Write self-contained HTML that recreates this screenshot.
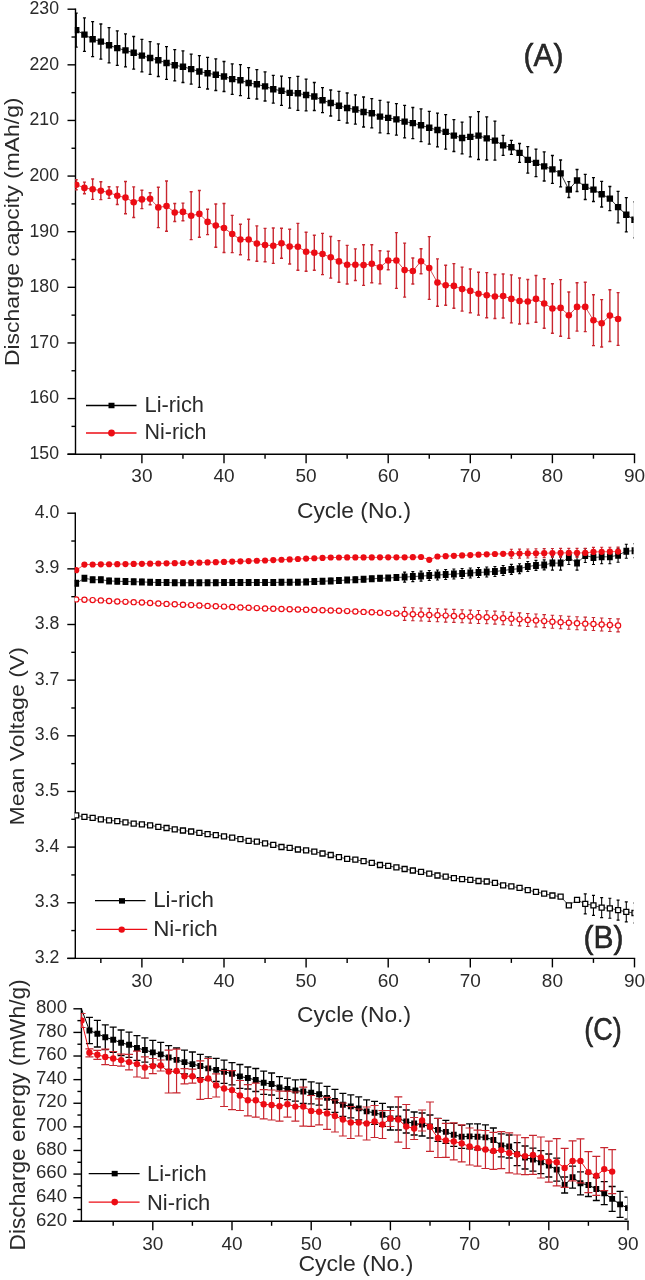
<!DOCTYPE html><html><head><meta charset="utf-8"><style>html,body{margin:0;padding:0;background:#fff;}svg{display:block;filter:blur(0.3px);}text{font-family:"Liberation Sans", sans-serif;fill:#2a2a2a;}</style></head><body>
<svg width="645" height="1280" viewBox="0 0 645 1280">
<rect width="645" height="1280" fill="#fff"/>
<defs><clipPath id="cA"><rect x="74.8" y="0" width="558.8" height="454"/></clipPath><clipPath id="cB"><rect x="74.6" y="500" width="559" height="458"/></clipPath><clipPath id="cC"><rect x="80.7" y="990" width="546.8" height="231"/></clipPath></defs>
<line x1="75.5" y1="8.5" x2="75.5" y2="454.9" stroke="#000" stroke-width="1.4"/>
<line x1="67.5" y1="454.2" x2="75.5" y2="454.2" stroke="#000" stroke-width="1.4"/>
<line x1="67.5" y1="398.57" x2="75.5" y2="398.57" stroke="#000" stroke-width="1.4"/>
<line x1="67.5" y1="342.95" x2="75.5" y2="342.95" stroke="#000" stroke-width="1.4"/>
<line x1="67.5" y1="287.32" x2="75.5" y2="287.32" stroke="#000" stroke-width="1.4"/>
<line x1="67.5" y1="231.7" x2="75.5" y2="231.7" stroke="#000" stroke-width="1.4"/>
<line x1="67.5" y1="176.07" x2="75.5" y2="176.07" stroke="#000" stroke-width="1.4"/>
<line x1="67.5" y1="120.45" x2="75.5" y2="120.45" stroke="#000" stroke-width="1.4"/>
<line x1="67.5" y1="64.83" x2="75.5" y2="64.83" stroke="#000" stroke-width="1.4"/>
<line x1="67.5" y1="9.2" x2="75.5" y2="9.2" stroke="#000" stroke-width="1.4"/>
<line x1="71.5" y1="426.39" x2="75.5" y2="426.39" stroke="#000" stroke-width="1.4"/>
<line x1="71.5" y1="370.76" x2="75.5" y2="370.76" stroke="#000" stroke-width="1.4"/>
<line x1="71.5" y1="315.14" x2="75.5" y2="315.14" stroke="#000" stroke-width="1.4"/>
<line x1="71.5" y1="259.51" x2="75.5" y2="259.51" stroke="#000" stroke-width="1.4"/>
<line x1="71.5" y1="203.89" x2="75.5" y2="203.89" stroke="#000" stroke-width="1.4"/>
<line x1="71.5" y1="148.26" x2="75.5" y2="148.26" stroke="#000" stroke-width="1.4"/>
<line x1="71.5" y1="92.64" x2="75.5" y2="92.64" stroke="#000" stroke-width="1.4"/>
<line x1="71.5" y1="37.01" x2="75.5" y2="37.01" stroke="#000" stroke-width="1.4"/>
<line x1="67.5" y1="454.2" x2="635.2" y2="454.2" stroke="#000" stroke-width="1.4"/>
<line x1="141.9" y1="454.2" x2="141.9" y2="463.2" stroke="#000" stroke-width="1.4"/>
<line x1="224" y1="454.2" x2="224" y2="463.2" stroke="#000" stroke-width="1.4"/>
<line x1="306.1" y1="454.2" x2="306.1" y2="463.2" stroke="#000" stroke-width="1.4"/>
<line x1="388.2" y1="454.2" x2="388.2" y2="463.2" stroke="#000" stroke-width="1.4"/>
<line x1="470.3" y1="454.2" x2="470.3" y2="463.2" stroke="#000" stroke-width="1.4"/>
<line x1="552.4" y1="454.2" x2="552.4" y2="463.2" stroke="#000" stroke-width="1.4"/>
<line x1="634.5" y1="454.2" x2="634.5" y2="463.2" stroke="#000" stroke-width="1.4"/>
<line x1="100.85" y1="454.2" x2="100.85" y2="458.7" stroke="#000" stroke-width="1.4"/>
<line x1="182.95" y1="454.2" x2="182.95" y2="458.7" stroke="#000" stroke-width="1.4"/>
<line x1="265.05" y1="454.2" x2="265.05" y2="458.7" stroke="#000" stroke-width="1.4"/>
<line x1="347.15" y1="454.2" x2="347.15" y2="458.7" stroke="#000" stroke-width="1.4"/>
<line x1="429.25" y1="454.2" x2="429.25" y2="458.7" stroke="#000" stroke-width="1.4"/>
<line x1="511.35" y1="454.2" x2="511.35" y2="458.7" stroke="#000" stroke-width="1.4"/>
<line x1="593.45" y1="454.2" x2="593.45" y2="458.7" stroke="#000" stroke-width="1.4"/>
<text transform="translate(59,459) scale(0.93,1)" font-size="19" text-anchor="end">150</text>
<text transform="translate(59,403.38) scale(0.93,1)" font-size="19" text-anchor="end">160</text>
<text transform="translate(59,347.75) scale(0.93,1)" font-size="19" text-anchor="end">170</text>
<text transform="translate(59,292.12) scale(0.93,1)" font-size="19" text-anchor="end">180</text>
<text transform="translate(59,236.5) scale(0.93,1)" font-size="19" text-anchor="end">190</text>
<text transform="translate(59,180.88) scale(0.93,1)" font-size="19" text-anchor="end">200</text>
<text transform="translate(59,125.25) scale(0.93,1)" font-size="19" text-anchor="end">210</text>
<text transform="translate(59,69.62) scale(0.93,1)" font-size="19" text-anchor="end">220</text>
<text transform="translate(59,14) scale(0.93,1)" font-size="19" text-anchor="end">230</text>
<text x="141.9" y="482" font-size="19" text-anchor="middle">30</text>
<text x="224" y="482" font-size="19" text-anchor="middle">40</text>
<text x="306.1" y="482" font-size="19" text-anchor="middle">50</text>
<text x="388.2" y="482" font-size="19" text-anchor="middle">60</text>
<text x="470.3" y="482" font-size="19" text-anchor="middle">70</text>
<text x="552.4" y="482" font-size="19" text-anchor="middle">80</text>
<text x="634.5" y="482" font-size="19" text-anchor="middle">90</text>
<text x="297" y="518" font-size="21.5" textLength="114" lengthAdjust="spacingAndGlyphs">Cycle (No.)</text>
<text transform="translate(18.6,366.1) rotate(-90)" font-size="21" textLength="268.6" lengthAdjust="spacingAndGlyphs">Discharge capcity (mAh/g)</text>
<text x="523.5" y="65.8" font-size="31" stroke="#111" stroke-width="0.5" textLength="40" lengthAdjust="spacingAndGlyphs" fill="#111">(A)</text>
<g clip-path="url(#cA)">
<polyline points="76.22,30.1 84.43,34.6 92.64,39.2 100.85,41.6 109.06,45.3 117.27,48.1 125.48,50.4 133.69,52.8 141.9,55.6 150.11,58 158.32,60.2 166.53,63 174.74,65.3 182.95,66.7 191.16,69.1 199.37,71.5 207.58,73.2 215.79,74.7 224,76.5 232.21,79.1 240.42,80.2 248.63,83 256.84,84.3 265.05,86.4 273.26,89.2 281.47,90.8 289.68,92.9 297.89,93.3 306.1,95 314.31,96.5 322.52,100.2 330.73,103 338.94,105.8 347.15,108 355.36,109.5 363.57,112 371.78,113.3 379.99,116.6 388.2,117.9 396.41,119.4 404.62,121.6 412.83,123.1 421.04,125.3 429.25,127.8 437.46,130 445.67,131.9 453.88,135.6 462.09,138 470.3,136.9 478.51,135.6 486.72,138.4 494.93,140.6 503.14,145.4 511.35,147.3 519.56,152.9 527.77,159.9 535.98,162.9 544.19,166.4 552.4,169.4 560.61,173.4 568.82,189.6 577.03,180.5 585.24,186.9 593.45,189.6 601.66,194.2 609.87,198.6 618.08,207.1 626.29,214.8 634.5,219.8" stroke="#000" stroke-width="0.8" fill="none"/>
<polyline points="76.22,184.7 84.43,187.9 92.64,189.2 100.85,190.7 109.06,192.6 117.27,195.7 125.48,197.6 133.69,202.2 141.9,199.4 150.11,198.7 158.32,207.4 166.53,206.1 174.74,212.5 182.95,211.9 191.16,215.7 199.37,213.9 207.58,221.9 215.79,225.6 224,228 232.21,234 240.42,239.5 248.63,239.5 256.84,243.6 265.05,245.1 273.26,245.7 281.47,243.3 289.68,246.6 297.89,246.8 306.1,251.7 314.31,252.7 322.52,254 330.73,257.3 338.94,261.4 347.15,264.7 355.36,264.7 363.57,265.1 371.78,263.8 379.99,267.3 388.2,260.5 396.41,260.5 404.62,270.1 412.83,271 421.04,261.2 429.25,268 437.46,282.6 445.67,285.3 453.88,285.9 462.09,289.1 470.3,290.9 478.51,293.7 486.72,295.2 494.93,296.5 503.14,296 511.35,298.9 519.56,301 527.77,301.5 535.98,298.9 544.19,303.5 552.4,308.5 560.61,307.9 568.82,315.2 577.03,306.9 585.24,306.9 593.45,320.2 601.66,323.3 609.87,315.6 618.08,319" stroke="#c8262f" stroke-width="0.8" fill="none"/>
<path d="M76.22 13.1V47.1M74.72 13.1H77.72M74.72 47.1H77.72M84.43 17.9V51.3M82.93 17.9H85.93M82.93 51.3H85.93M92.64 21.7V56.7M91.14 21.7H94.14M91.14 56.7H94.14M100.85 24V59.2M99.35 24H102.35M99.35 59.2H102.35M109.06 27.7V62.9M107.56 27.7H110.56M107.56 62.9H110.56M117.27 30.9V65.3M115.77 30.9H118.77M115.77 65.3H118.77M125.48 33.9V66.9M123.98 33.9H126.98M123.98 66.9H126.98M133.69 36.5V69.1M132.19 36.5H135.19M132.19 69.1H135.19M141.9 39.3V71.9M140.4 39.3H143.4M140.4 71.9H143.4M150.11 41.7V74.3M148.61 41.7H151.61M148.61 74.3H151.61M158.32 43.9V76.5M156.82 43.9H159.82M156.82 76.5H159.82M166.53 46.6V79.4M165.03 46.6H168.03M165.03 79.4H168.03M174.74 49.7V80.9M173.24 49.7H176.24M173.24 80.9H176.24M182.95 50.9V82.5M181.45 50.9H184.45M181.45 82.5H184.45M191.16 54.1V84.1M189.66 54.1H192.66M189.66 84.1H192.66M199.37 55.7V87.3M197.87 55.7H200.87M197.87 87.3H200.87M207.58 57.4V89M206.08 57.4H209.08M206.08 89H209.08M215.79 58.9V90.5M214.29 58.9H217.29M214.29 90.5H217.29M224 61.5V91.5M222.5 61.5H225.5M222.5 91.5H225.5M232.21 63.9V94.3M230.71 63.9H233.71M230.71 94.3H233.71M240.42 64.7V95.7M238.92 64.7H241.92M238.92 95.7H241.92M248.63 67.7V98.3M247.13 67.7H250.13M247.13 98.3H250.13M256.84 69.6V99M255.34 69.6H258.34M255.34 99H258.34M265.05 71.8V101M263.55 71.8H266.55M263.55 101H266.55M273.26 75.3V103.1M271.76 75.3H274.76M271.76 103.1H274.76M281.47 76.2V105.4M279.97 76.2H282.97M279.97 105.4H282.97M289.68 77.7V108.1M288.18 77.7H291.18M288.18 108.1H291.18M297.89 76.3V110.3M296.39 76.3H299.39M296.39 110.3H299.39M306.1 79.2V110.8M304.6 79.2H307.6M304.6 110.8H307.6M314.31 82.5V110.5M312.81 82.5H315.81M312.81 110.5H315.81M322.52 87.7V112.7M321.02 87.7H324.02M321.02 112.7H324.02M330.73 90V116M329.23 90H332.23M329.23 116H332.23M338.94 91.3V120.3M337.44 91.3H340.44M337.44 120.3H340.44M347.15 93V123M345.65 93H348.65M345.65 123H348.65M355.36 94.9V124.1M353.86 94.9H356.86M353.86 124.1H356.86M363.57 97V127M362.07 97H365.07M362.07 127H365.07M371.78 98.7V127.9M370.28 98.7H373.28M370.28 127.9H373.28M379.99 100.3V132.9M378.49 100.3H381.49M378.49 132.9H381.49M388.2 102.1V133.7M386.7 102.1H389.7M386.7 133.7H389.7M396.41 103.6V135.2M394.91 103.6H397.91M394.91 135.2H397.91M404.62 105.3V137.9M403.12 105.3H406.12M403.12 137.9H406.12M412.83 107.5V138.7M411.33 107.5H414.33M411.33 138.7H414.33M421.04 108.9V141.7M419.54 108.9H422.54M419.54 141.7H422.54M429.25 111.4V144.2M427.75 111.4H430.75M427.75 144.2H430.75M437.46 113.1V146.9M435.96 113.1H438.96M435.96 146.9H438.96M445.67 114.7V149.1M444.17 114.7H447.17M444.17 149.1H447.17M453.88 119.7V151.5M452.38 119.7H455.38M452.38 151.5H455.38M462.09 122.2V153.8M460.59 122.2H463.59M460.59 153.8H463.59M470.3 116.9V156.9M468.8 116.9H471.8M468.8 156.9H471.8M478.51 111.7V159.5M477.01 111.7H480.01M477.01 159.5H480.01M486.72 116.8V160M485.22 116.8H488.22M485.22 160H488.22M494.93 121.1V160.1M493.43 121.1H496.43M493.43 160.1H496.43M503.14 135.4V155.4M501.64 135.4H504.64M501.64 155.4H504.64M511.35 140.3V154.3M509.85 140.3H512.85M509.85 154.3H512.85M519.56 143.5V162.3M518.06 143.5H521.06M518.06 162.3H521.06M527.77 146.6V173.2M526.27 146.6H529.27M526.27 173.2H529.27M535.98 149.1V176.7M534.48 149.1H537.48M534.48 176.7H537.48M544.19 151.8V181M542.69 151.8H545.69M542.69 181H545.69M552.4 155.5V183.3M550.9 155.5H553.9M550.9 183.3H553.9M560.61 160V186.8M559.11 160H562.11M559.11 186.8H562.11M568.82 181.7V197.5M567.32 181.7H570.32M567.32 197.5H570.32M577.03 169.5V191.5M575.53 169.5H578.53M575.53 191.5H578.53M585.24 174.3V199.5M583.74 174.3H586.74M583.74 199.5H586.74M593.45 177.7V201.5M591.95 177.7H594.95M591.95 201.5H594.95M601.66 181.4V207M600.16 181.4H603.16M600.16 207H603.16M609.87 186.5V210.7M608.37 186.5H611.37M608.37 210.7H611.37M618.08 191.3V222.9M616.58 191.3H619.58M616.58 222.9H619.58M626.29 197.7V231.9M624.79 197.7H627.79M624.79 231.9H627.79M634.5 201.8V237.8M633 201.8H636M633 237.8H636" stroke="#000" stroke-width="1.3" fill="none"/>
<path d="M76.22 179.7V189.7M74.72 179.7H77.72M74.72 189.7H77.72M84.43 182.1V193.7M82.93 182.1H85.93M82.93 193.7H85.93M92.64 179V199.4M91.14 179H94.14M91.14 199.4H94.14M100.85 181.8V199.6M99.35 181.8H102.35M99.35 199.6H102.35M109.06 186.8V198.4M107.56 186.8H110.56M107.56 198.4H110.56M117.27 186.9V204.5M115.77 186.9H118.77M115.77 204.5H118.77M125.48 181.5V213.7M123.98 181.5H126.98M123.98 213.7H126.98M133.69 186.9V217.5M132.19 186.9H135.19M132.19 217.5H135.19M141.9 190.2V208.6M140.4 190.2H143.4M140.4 208.6H143.4M150.11 192.7V204.7M148.61 192.7H151.61M148.61 204.7H151.61M158.32 187.2V227.6M156.82 187.2H159.82M156.82 227.6H159.82M166.53 181V231.2M165.03 181H168.03M165.03 231.2H168.03M174.74 203.5V221.5M173.24 203.5H176.24M173.24 221.5H176.24M182.95 203.1V220.7M181.45 203.1H184.45M181.45 220.7H184.45M191.16 191.8V239.6M189.66 191.8H192.66M189.66 239.6H192.66M199.37 190.5V237.3M197.87 190.5H200.87M197.87 237.3H200.87M207.58 209.2V234.6M206.08 209.2H209.08M206.08 234.6H209.08M215.79 204V247.2M214.29 204H217.29M214.29 247.2H217.29M224 203.5V252.5M222.5 203.5H225.5M222.5 252.5H225.5M232.21 215.4V252.6M230.71 215.4H233.71M230.71 252.6H233.71M240.42 224.2V254.8M238.92 224.2H241.92M238.92 254.8H241.92M248.63 219.3V259.7M247.13 219.3H250.13M247.13 259.7H250.13M256.84 225.9V261.3M255.34 225.9H258.34M255.34 261.3H258.34M265.05 228.4V261.8M263.55 228.4H266.55M263.55 261.8H266.55M273.26 228V263.4M271.76 228H274.76M271.76 263.4H274.76M281.47 228.3V258.3M279.97 228.3H282.97M279.97 258.3H282.97M289.68 229.2V264M288.18 229.2H291.18M288.18 264H291.18M297.89 223.4V270.2M296.39 223.4H299.39M296.39 270.2H299.39M306.1 232.2V271.2M304.6 232.2H307.6M304.6 271.2H307.6M314.31 235.2V270.2M312.81 235.2H315.81M312.81 270.2H315.81M322.52 233.4V274.6M321.02 233.4H324.02M321.02 274.6H324.02M330.73 236.5V278.1M329.23 236.5H332.23M329.23 278.1H332.23M338.94 240.6V282.2M337.44 240.6H340.44M337.44 282.2H340.44M347.15 245.4V284M345.65 245.4H348.65M345.65 284H348.65M355.36 248.9V280.5M353.86 248.9H356.86M353.86 280.5H356.86M363.57 244.8V285.4M362.07 244.8H365.07M362.07 285.4H365.07M371.78 244.8V282.8M370.28 244.8H373.28M370.28 282.8H373.28M379.99 250.7V283.9M378.49 250.7H381.49M378.49 283.9H381.49M388.2 251.2V269.8M386.7 251.2H389.7M386.7 269.8H389.7M396.41 232.6V288.4M394.91 232.6H397.91M394.91 288.4H397.91M404.62 243.1V297.1M403.12 243.1H406.12M403.12 297.1H406.12M412.83 258V284M411.33 258H414.33M411.33 284H414.33M421.04 248.7V273.7M419.54 248.7H422.54M419.54 273.7H422.54M429.25 236.6V299.4M427.75 236.6H430.75M427.75 299.4H430.75M437.46 258.9V306.3M435.96 258.9H438.96M435.96 306.3H438.96M445.67 265.3V305.3M444.17 265.3H447.17M444.17 305.3H447.17M453.88 263.6V308.2M452.38 263.6H455.38M452.38 308.2H455.38M462.09 267.1V311.1M460.59 267.1H463.59M460.59 311.1H463.59M470.3 269V312.8M468.8 269H471.8M468.8 312.8H471.8M478.51 272.3V315.1M477.01 272.3H480.01M477.01 315.1H480.01M486.72 272.6V317.8M485.22 272.6H488.22M485.22 317.8H488.22M494.93 274.5V318.5M493.43 274.5H496.43M493.43 318.5H496.43M503.14 274V318M501.64 274H504.64M501.64 318H504.64M511.35 274.9V322.9M509.85 274.9H512.85M509.85 322.9H512.85M519.56 278V324M518.06 278H521.06M518.06 324H521.06M527.77 279.5V323.5M526.27 279.5H529.27M526.27 323.5H529.27M535.98 275.5V322.3M534.48 275.5H537.48M534.48 322.3H537.48M544.19 278.8V328.2M542.69 278.8H545.69M542.69 328.2H545.69M552.4 283.8V333.2M550.9 283.8H553.9M550.9 333.2H553.9M560.61 279.6V336.2M559.11 279.6H562.11M559.11 336.2H562.11M568.82 292V338.4M567.32 292H570.32M567.32 338.4H570.32M577.03 282.7V331.1M575.53 282.7H578.53M575.53 331.1H578.53M585.24 282.2V331.6M583.74 282.2H586.74M583.74 331.6H586.74M593.45 294.8V345.6M591.95 294.8H594.95M591.95 345.6H594.95M601.66 299.6V347M600.16 299.6H603.16M600.16 347H603.16M609.87 289.7V341.5M608.37 289.7H611.37M608.37 341.5H611.37M618.08 292.6V345.4M616.58 292.6H619.58M616.58 345.4H619.58" stroke="#c8262f" stroke-width="1.4" fill="none"/>
<path d="M73.02 26.9h6.4v6.4h-6.4zM81.23 31.4h6.4v6.4h-6.4zM89.44 36h6.4v6.4h-6.4zM97.65 38.4h6.4v6.4h-6.4zM105.86 42.1h6.4v6.4h-6.4zM114.07 44.9h6.4v6.4h-6.4zM122.28 47.2h6.4v6.4h-6.4zM130.49 49.6h6.4v6.4h-6.4zM138.7 52.4h6.4v6.4h-6.4zM146.91 54.8h6.4v6.4h-6.4zM155.12 57h6.4v6.4h-6.4zM163.33 59.8h6.4v6.4h-6.4zM171.54 62.1h6.4v6.4h-6.4zM179.75 63.5h6.4v6.4h-6.4zM187.96 65.9h6.4v6.4h-6.4zM196.17 68.3h6.4v6.4h-6.4zM204.38 70h6.4v6.4h-6.4zM212.59 71.5h6.4v6.4h-6.4zM220.8 73.3h6.4v6.4h-6.4zM229.01 75.9h6.4v6.4h-6.4zM237.22 77h6.4v6.4h-6.4zM245.43 79.8h6.4v6.4h-6.4zM253.64 81.1h6.4v6.4h-6.4zM261.85 83.2h6.4v6.4h-6.4zM270.06 86h6.4v6.4h-6.4zM278.27 87.6h6.4v6.4h-6.4zM286.48 89.7h6.4v6.4h-6.4zM294.69 90.1h6.4v6.4h-6.4zM302.9 91.8h6.4v6.4h-6.4zM311.11 93.3h6.4v6.4h-6.4zM319.32 97h6.4v6.4h-6.4zM327.53 99.8h6.4v6.4h-6.4zM335.74 102.6h6.4v6.4h-6.4zM343.95 104.8h6.4v6.4h-6.4zM352.16 106.3h6.4v6.4h-6.4zM360.37 108.8h6.4v6.4h-6.4zM368.58 110.1h6.4v6.4h-6.4zM376.79 113.4h6.4v6.4h-6.4zM385 114.7h6.4v6.4h-6.4zM393.21 116.2h6.4v6.4h-6.4zM401.42 118.4h6.4v6.4h-6.4zM409.63 119.9h6.4v6.4h-6.4zM417.84 122.1h6.4v6.4h-6.4zM426.05 124.6h6.4v6.4h-6.4zM434.26 126.8h6.4v6.4h-6.4zM442.47 128.7h6.4v6.4h-6.4zM450.68 132.4h6.4v6.4h-6.4zM458.89 134.8h6.4v6.4h-6.4zM467.1 133.7h6.4v6.4h-6.4zM475.31 132.4h6.4v6.4h-6.4zM483.52 135.2h6.4v6.4h-6.4zM491.73 137.4h6.4v6.4h-6.4zM499.94 142.2h6.4v6.4h-6.4zM508.15 144.1h6.4v6.4h-6.4zM516.36 149.7h6.4v6.4h-6.4zM524.57 156.7h6.4v6.4h-6.4zM532.78 159.7h6.4v6.4h-6.4zM540.99 163.2h6.4v6.4h-6.4zM549.2 166.2h6.4v6.4h-6.4zM557.41 170.2h6.4v6.4h-6.4zM565.62 186.4h6.4v6.4h-6.4zM573.83 177.3h6.4v6.4h-6.4zM582.04 183.7h6.4v6.4h-6.4zM590.25 186.4h6.4v6.4h-6.4zM598.46 191h6.4v6.4h-6.4zM606.67 195.4h6.4v6.4h-6.4zM614.88 203.9h6.4v6.4h-6.4zM623.09 211.6h6.4v6.4h-6.4zM631.3 216.6h6.4v6.4h-6.4z" fill="#000"/>
<circle cx="76.22" cy="184.7" r="3.3" fill="#ec0c14"/>
<circle cx="84.43" cy="187.9" r="3.3" fill="#ec0c14"/>
<circle cx="92.64" cy="189.2" r="3.3" fill="#ec0c14"/>
<circle cx="100.85" cy="190.7" r="3.3" fill="#ec0c14"/>
<circle cx="109.06" cy="192.6" r="3.3" fill="#ec0c14"/>
<circle cx="117.27" cy="195.7" r="3.3" fill="#ec0c14"/>
<circle cx="125.48" cy="197.6" r="3.3" fill="#ec0c14"/>
<circle cx="133.69" cy="202.2" r="3.3" fill="#ec0c14"/>
<circle cx="141.9" cy="199.4" r="3.3" fill="#ec0c14"/>
<circle cx="150.11" cy="198.7" r="3.3" fill="#ec0c14"/>
<circle cx="158.32" cy="207.4" r="3.3" fill="#ec0c14"/>
<circle cx="166.53" cy="206.1" r="3.3" fill="#ec0c14"/>
<circle cx="174.74" cy="212.5" r="3.3" fill="#ec0c14"/>
<circle cx="182.95" cy="211.9" r="3.3" fill="#ec0c14"/>
<circle cx="191.16" cy="215.7" r="3.3" fill="#ec0c14"/>
<circle cx="199.37" cy="213.9" r="3.3" fill="#ec0c14"/>
<circle cx="207.58" cy="221.9" r="3.3" fill="#ec0c14"/>
<circle cx="215.79" cy="225.6" r="3.3" fill="#ec0c14"/>
<circle cx="224" cy="228" r="3.3" fill="#ec0c14"/>
<circle cx="232.21" cy="234" r="3.3" fill="#ec0c14"/>
<circle cx="240.42" cy="239.5" r="3.3" fill="#ec0c14"/>
<circle cx="248.63" cy="239.5" r="3.3" fill="#ec0c14"/>
<circle cx="256.84" cy="243.6" r="3.3" fill="#ec0c14"/>
<circle cx="265.05" cy="245.1" r="3.3" fill="#ec0c14"/>
<circle cx="273.26" cy="245.7" r="3.3" fill="#ec0c14"/>
<circle cx="281.47" cy="243.3" r="3.3" fill="#ec0c14"/>
<circle cx="289.68" cy="246.6" r="3.3" fill="#ec0c14"/>
<circle cx="297.89" cy="246.8" r="3.3" fill="#ec0c14"/>
<circle cx="306.1" cy="251.7" r="3.3" fill="#ec0c14"/>
<circle cx="314.31" cy="252.7" r="3.3" fill="#ec0c14"/>
<circle cx="322.52" cy="254" r="3.3" fill="#ec0c14"/>
<circle cx="330.73" cy="257.3" r="3.3" fill="#ec0c14"/>
<circle cx="338.94" cy="261.4" r="3.3" fill="#ec0c14"/>
<circle cx="347.15" cy="264.7" r="3.3" fill="#ec0c14"/>
<circle cx="355.36" cy="264.7" r="3.3" fill="#ec0c14"/>
<circle cx="363.57" cy="265.1" r="3.3" fill="#ec0c14"/>
<circle cx="371.78" cy="263.8" r="3.3" fill="#ec0c14"/>
<circle cx="379.99" cy="267.3" r="3.3" fill="#ec0c14"/>
<circle cx="388.2" cy="260.5" r="3.3" fill="#ec0c14"/>
<circle cx="396.41" cy="260.5" r="3.3" fill="#ec0c14"/>
<circle cx="404.62" cy="270.1" r="3.3" fill="#ec0c14"/>
<circle cx="412.83" cy="271" r="3.3" fill="#ec0c14"/>
<circle cx="421.04" cy="261.2" r="3.3" fill="#ec0c14"/>
<circle cx="429.25" cy="268" r="3.3" fill="#ec0c14"/>
<circle cx="437.46" cy="282.6" r="3.3" fill="#ec0c14"/>
<circle cx="445.67" cy="285.3" r="3.3" fill="#ec0c14"/>
<circle cx="453.88" cy="285.9" r="3.3" fill="#ec0c14"/>
<circle cx="462.09" cy="289.1" r="3.3" fill="#ec0c14"/>
<circle cx="470.3" cy="290.9" r="3.3" fill="#ec0c14"/>
<circle cx="478.51" cy="293.7" r="3.3" fill="#ec0c14"/>
<circle cx="486.72" cy="295.2" r="3.3" fill="#ec0c14"/>
<circle cx="494.93" cy="296.5" r="3.3" fill="#ec0c14"/>
<circle cx="503.14" cy="296" r="3.3" fill="#ec0c14"/>
<circle cx="511.35" cy="298.9" r="3.3" fill="#ec0c14"/>
<circle cx="519.56" cy="301" r="3.3" fill="#ec0c14"/>
<circle cx="527.77" cy="301.5" r="3.3" fill="#ec0c14"/>
<circle cx="535.98" cy="298.9" r="3.3" fill="#ec0c14"/>
<circle cx="544.19" cy="303.5" r="3.3" fill="#ec0c14"/>
<circle cx="552.4" cy="308.5" r="3.3" fill="#ec0c14"/>
<circle cx="560.61" cy="307.9" r="3.3" fill="#ec0c14"/>
<circle cx="568.82" cy="315.2" r="3.3" fill="#ec0c14"/>
<circle cx="577.03" cy="306.9" r="3.3" fill="#ec0c14"/>
<circle cx="585.24" cy="306.9" r="3.3" fill="#ec0c14"/>
<circle cx="593.45" cy="320.2" r="3.3" fill="#ec0c14"/>
<circle cx="601.66" cy="323.3" r="3.3" fill="#ec0c14"/>
<circle cx="609.87" cy="315.6" r="3.3" fill="#ec0c14"/>
<circle cx="618.08" cy="319" r="3.3" fill="#ec0c14"/>
</g>
<line x1="86" y1="405.5" x2="136.5" y2="405.5" stroke="#000" stroke-width="1.3"/>
<path d="M108.5 402.75h6v5.5h-6z" fill="#000"/>
<line x1="86" y1="433" x2="136.5" y2="433" stroke="#ec0c14" stroke-width="1.3"/>
<circle cx="111.5" cy="433" r="3.4" fill="#ec0c14"/>
<text x="144.5" y="411.8" font-size="22" textLength="59.5" lengthAdjust="spacingAndGlyphs">Li-rich</text>
<text x="144.5" y="439" font-size="22" textLength="62" lengthAdjust="spacingAndGlyphs">Ni-rich</text>
<line x1="75.3" y1="512.5" x2="75.3" y2="959.1" stroke="#000" stroke-width="1.4"/>
<line x1="67.3" y1="958.4" x2="75.3" y2="958.4" stroke="#000" stroke-width="1.4"/>
<line x1="67.3" y1="902.75" x2="75.3" y2="902.75" stroke="#000" stroke-width="1.4"/>
<line x1="67.3" y1="847.1" x2="75.3" y2="847.1" stroke="#000" stroke-width="1.4"/>
<line x1="67.3" y1="791.45" x2="75.3" y2="791.45" stroke="#000" stroke-width="1.4"/>
<line x1="67.3" y1="735.8" x2="75.3" y2="735.8" stroke="#000" stroke-width="1.4"/>
<line x1="67.3" y1="680.15" x2="75.3" y2="680.15" stroke="#000" stroke-width="1.4"/>
<line x1="67.3" y1="624.5" x2="75.3" y2="624.5" stroke="#000" stroke-width="1.4"/>
<line x1="67.3" y1="568.85" x2="75.3" y2="568.85" stroke="#000" stroke-width="1.4"/>
<line x1="67.3" y1="513.2" x2="75.3" y2="513.2" stroke="#000" stroke-width="1.4"/>
<line x1="71.3" y1="930.58" x2="75.3" y2="930.58" stroke="#000" stroke-width="1.4"/>
<line x1="71.3" y1="874.92" x2="75.3" y2="874.92" stroke="#000" stroke-width="1.4"/>
<line x1="71.3" y1="819.27" x2="75.3" y2="819.27" stroke="#000" stroke-width="1.4"/>
<line x1="71.3" y1="763.63" x2="75.3" y2="763.63" stroke="#000" stroke-width="1.4"/>
<line x1="71.3" y1="707.98" x2="75.3" y2="707.98" stroke="#000" stroke-width="1.4"/>
<line x1="71.3" y1="652.33" x2="75.3" y2="652.33" stroke="#000" stroke-width="1.4"/>
<line x1="71.3" y1="596.67" x2="75.3" y2="596.67" stroke="#000" stroke-width="1.4"/>
<line x1="71.3" y1="541.02" x2="75.3" y2="541.02" stroke="#000" stroke-width="1.4"/>
<line x1="67.3" y1="958.4" x2="635.2" y2="958.4" stroke="#000" stroke-width="1.4"/>
<line x1="141.9" y1="958.4" x2="141.9" y2="967.4" stroke="#000" stroke-width="1.4"/>
<line x1="224" y1="958.4" x2="224" y2="967.4" stroke="#000" stroke-width="1.4"/>
<line x1="306.1" y1="958.4" x2="306.1" y2="967.4" stroke="#000" stroke-width="1.4"/>
<line x1="388.2" y1="958.4" x2="388.2" y2="967.4" stroke="#000" stroke-width="1.4"/>
<line x1="470.3" y1="958.4" x2="470.3" y2="967.4" stroke="#000" stroke-width="1.4"/>
<line x1="552.4" y1="958.4" x2="552.4" y2="967.4" stroke="#000" stroke-width="1.4"/>
<line x1="634.5" y1="958.4" x2="634.5" y2="967.4" stroke="#000" stroke-width="1.4"/>
<line x1="100.85" y1="958.4" x2="100.85" y2="962.9" stroke="#000" stroke-width="1.4"/>
<line x1="182.95" y1="958.4" x2="182.95" y2="962.9" stroke="#000" stroke-width="1.4"/>
<line x1="265.05" y1="958.4" x2="265.05" y2="962.9" stroke="#000" stroke-width="1.4"/>
<line x1="347.15" y1="958.4" x2="347.15" y2="962.9" stroke="#000" stroke-width="1.4"/>
<line x1="429.25" y1="958.4" x2="429.25" y2="962.9" stroke="#000" stroke-width="1.4"/>
<line x1="511.35" y1="958.4" x2="511.35" y2="962.9" stroke="#000" stroke-width="1.4"/>
<line x1="593.45" y1="958.4" x2="593.45" y2="962.9" stroke="#000" stroke-width="1.4"/>
<text transform="translate(59.2,962.8) scale(0.93,1)" font-size="19" text-anchor="end">3.2</text>
<text transform="translate(59.2,907.15) scale(0.93,1)" font-size="19" text-anchor="end">3.3</text>
<text transform="translate(59.2,851.5) scale(0.93,1)" font-size="19" text-anchor="end">3.4</text>
<text transform="translate(59.2,795.85) scale(0.93,1)" font-size="19" text-anchor="end">3.5</text>
<text transform="translate(59.2,740.2) scale(0.93,1)" font-size="19" text-anchor="end">3.6</text>
<text transform="translate(59.2,684.55) scale(0.93,1)" font-size="19" text-anchor="end">3.7</text>
<text transform="translate(59.2,628.9) scale(0.93,1)" font-size="19" text-anchor="end">3.8</text>
<text transform="translate(59.2,573.25) scale(0.93,1)" font-size="19" text-anchor="end">3.9</text>
<text transform="translate(59.2,517.6) scale(0.93,1)" font-size="19" text-anchor="end">4.0</text>
<text x="141.9" y="987" font-size="19" text-anchor="middle">30</text>
<text x="224" y="987" font-size="19" text-anchor="middle">40</text>
<text x="306.1" y="987" font-size="19" text-anchor="middle">50</text>
<text x="388.2" y="987" font-size="19" text-anchor="middle">60</text>
<text x="470.3" y="987" font-size="19" text-anchor="middle">70</text>
<text x="552.4" y="987" font-size="19" text-anchor="middle">80</text>
<text x="634.5" y="987" font-size="19" text-anchor="middle">90</text>
<text x="297" y="1022" font-size="21.5" textLength="114" lengthAdjust="spacingAndGlyphs">Cycle (No.)</text>
<text transform="translate(24,825.4) rotate(-90)" font-size="21" textLength="178.3" lengthAdjust="spacingAndGlyphs">Mean Voltage (V)</text>
<text x="583.5" y="948" font-size="31" stroke="#111" stroke-width="0.5" textLength="40" lengthAdjust="spacingAndGlyphs" fill="#111">(B)</text>
<g clip-path="url(#cB)">
<polyline points="76.22,570.2 84.43,564.6 92.64,564.49 100.85,564.37 109.06,564.26 117.27,564.14 125.48,564.03 133.69,563.91 141.9,563.8 150.11,563.64 158.32,563.49 166.53,563.33 174.74,563.17 182.95,563.01 191.16,562.86 199.37,562.7 207.58,562.43 215.79,562.15 224,561.88 232.21,561.6 240.42,561.33 248.63,561.05 256.84,560.77 265.05,560.5 273.26,560.12 281.47,559.75 289.68,559.38 297.89,559 306.1,558.62 314.31,558.25 322.52,557.88 330.73,557.5 338.94,557.48 347.15,557.46 355.36,557.43 363.57,557.41 371.78,557.39 379.99,557.37 388.2,557.34 396.41,557.32 404.62,557.3 412.83,557.15 421.04,557 429.25,559.8 437.46,556.5 445.67,556.14 453.88,555.79 462.09,555.43 470.3,555.07 478.51,554.71 486.72,554.36 494.93,554 503.14,553.86 511.35,553.73 519.56,553.59 527.77,553.45 535.98,553.31 544.19,553.17 552.4,553.04 560.61,552.9 568.82,552.9 577.03,552.9 585.24,552.9 593.45,551.9 601.66,551.8 609.87,551.7 618.08,551.6" stroke="#ec0c14" stroke-width="0.7" fill="none"/>
<polyline points="76.22,583.3 84.43,578.3 92.64,579.7 100.85,579.7 109.06,580.9 117.27,581.3 125.48,581.5 133.69,581.7 141.9,581.9 150.11,582.3 158.32,582.43 166.53,582.57 174.74,582.7 182.95,582.7 191.16,582.7 199.37,582.7 207.58,582.68 215.79,582.65 224,582.62 232.21,582.6 240.42,582.58 248.63,582.55 256.84,582.52 265.05,582.5 273.26,582.42 281.47,582.35 289.68,582.28 297.89,582.2 306.1,581.88 314.31,581.55 322.52,581.23 330.73,580.9 338.94,580.48 347.15,580.06 355.36,579.63 363.57,579.21 371.78,578.79 379.99,578.37 388.2,577.94 396.41,577.52 404.62,577.1 412.83,576.59 421.04,576.08 429.25,575.57 437.46,575.06 445.67,574.55 453.88,574.05 462.09,573.54 470.3,573.03 478.51,572.52 486.72,572.01 494.93,571.5 503.14,570.5 511.35,569.4 519.56,568.7 527.77,566.5 535.98,565.4 544.19,564.9 552.4,563.1 560.61,563.1 568.82,557.5 577.03,563.1 585.24,555.5 593.45,557.5 601.66,556.8 609.87,556.8 618.08,555.2 626.29,551.2 634.5,550.7" stroke="#000" stroke-width="0.7" fill="none"/>
<polyline points="76.22,599.4 84.43,599.8 92.64,600.1 100.85,600.4 109.06,600.95 117.27,601.5 125.48,601.83 133.69,602.17 141.9,602.5 150.11,602.97 158.32,603.43 166.53,603.9 174.74,604.3 182.95,604.7 191.16,605.1 199.37,605.5 207.58,605.88 215.79,606.25 224,606.62 232.21,607 240.42,607.38 248.63,607.75 256.84,608.12 265.05,608.5 273.26,608.74 281.47,608.99 289.68,609.23 297.89,609.48 306.1,609.72 314.31,609.97 322.52,610.21 330.73,610.46 338.94,610.7 347.15,611.1 355.36,611.5 363.57,611.9 371.78,612.3 379.99,612.7 388.2,613.1 396.41,613.5 404.62,613.9 412.83,614.24 421.04,614.57 429.25,614.91 437.46,615.25 445.67,615.58 453.88,615.92 462.09,616.25 470.3,616.59 478.51,616.93 486.72,617.26 494.93,617.6 503.14,618.19 511.35,618.77 519.56,619.36 527.77,619.95 535.98,620.54 544.19,621.12 552.4,621.71 560.61,622.3 568.82,622.74 577.03,623.19 585.24,623.63 593.45,624.07 601.66,624.51 609.87,624.96 618.08,625.4" stroke="#ec0c14" stroke-width="0.7" fill="none"/>
<polyline points="76.22,815.4 84.43,816.9 92.64,817.9 100.85,819.4 109.06,820.3 117.27,821.1 125.48,822.3 133.69,823.6 141.9,824.3 150.11,825.3 158.32,826.8 166.53,828 174.74,829.3 182.95,830.5 191.16,831.5 199.37,832.8 207.58,834.2 215.79,835.2 224,836.4 232.21,837.7 240.42,839.2 248.63,840.8 256.84,841.7 265.05,843.3 273.26,844.8 281.47,847 289.68,847.9 297.89,849.5 306.1,850.4 314.31,851.6 322.52,853.5 330.73,855 338.94,857.2 347.15,858.8 355.36,859.7 363.57,861.2 371.78,862.8 379.99,865 388.2,865.9 396.41,867.4 404.62,869 412.83,870.5 421.04,871.9 429.25,873.7 437.46,875.5 445.67,876.6 453.88,878.1 462.09,879.1 470.3,879.9 478.51,881 486.72,881.5 494.93,882.8 503.14,885.3 511.35,886.4 519.56,887.9 527.77,890.1 535.98,891.9 544.19,893.7 552.4,895.5 560.61,896.6 568.82,905.4 577.03,899.9 585.24,903.9 593.45,905.4 601.66,907.6 609.87,908.3 618.08,910.1 626.29,911.9 634.5,913" stroke="#000" stroke-width="0.7" fill="none"/>
<path d="M76.22 580.8V585.8M74.72 580.8H77.72M74.72 585.8H77.72M84.43 575.8V580.8M82.93 575.8H85.93M82.93 580.8H85.93M92.64 577.2V582.2M91.14 577.2H94.14M91.14 582.2H94.14M100.85 577.2V582.2M99.35 577.2H102.35M99.35 582.2H102.35M109.06 578.4V583.4M107.56 578.4H110.56M107.56 583.4H110.56M117.27 578.8V583.8M115.77 578.8H118.77M115.77 583.8H118.77M125.48 579V584M123.98 579H126.98M123.98 584H126.98M133.69 579.2V584.2M132.19 579.2H135.19M132.19 584.2H135.19M141.9 579.4V584.4M140.4 579.4H143.4M140.4 584.4H143.4M150.11 579.8V584.8M148.61 579.8H151.61M148.61 584.8H151.61M158.32 579.93V584.93M156.82 579.93H159.82M156.82 584.93H159.82M166.53 580.07V585.07M165.03 580.07H168.03M165.03 585.07H168.03M174.74 580.2V585.2M173.24 580.2H176.24M173.24 585.2H176.24M182.95 580.2V585.2M181.45 580.2H184.45M181.45 585.2H184.45M191.16 580.2V585.2M189.66 580.2H192.66M189.66 585.2H192.66M199.37 580.2V585.2M197.87 580.2H200.87M197.87 585.2H200.87M207.58 580.18V585.18M206.08 580.18H209.08M206.08 585.18H209.08M215.79 580.15V585.15M214.29 580.15H217.29M214.29 585.15H217.29M224 580.12V585.12M222.5 580.12H225.5M222.5 585.12H225.5M232.21 580.1V585.1M230.71 580.1H233.71M230.71 585.1H233.71M240.42 580.08V585.08M238.92 580.08H241.92M238.92 585.08H241.92M248.63 580.05V585.05M247.13 580.05H250.13M247.13 585.05H250.13M256.84 580.02V585.02M255.34 580.02H258.34M255.34 585.02H258.34M265.05 580V585M263.55 580H266.55M263.55 585H266.55M273.26 579.92V584.92M271.76 579.92H274.76M271.76 584.92H274.76M281.47 579.85V584.85M279.97 579.85H282.97M279.97 584.85H282.97M289.68 579.78V584.78M288.18 579.78H291.18M288.18 584.78H291.18M297.89 579.7V584.7M296.39 579.7H299.39M296.39 584.7H299.39M306.1 579.38V584.38M304.6 579.38H307.6M304.6 584.38H307.6M314.31 579.05V584.05M312.81 579.05H315.81M312.81 584.05H315.81M322.52 578.73V583.73M321.02 578.73H324.02M321.02 583.73H324.02M330.73 578.4V583.4M329.23 578.4H332.23M329.23 583.4H332.23M338.94 577.98V582.98M337.44 577.98H340.44M337.44 582.98H340.44M347.15 577.56V582.56M345.65 577.56H348.65M345.65 582.56H348.65M355.36 577.13V582.13M353.86 577.13H356.86M353.86 582.13H356.86M363.57 576.71V581.71M362.07 576.71H365.07M362.07 581.71H365.07M371.78 576.29V581.29M370.28 576.29H373.28M370.28 581.29H373.28M379.99 575.87V580.87M378.49 575.87H381.49M378.49 580.87H381.49M388.2 575.44V580.44M386.7 575.44H389.7M386.7 580.44H389.7M396.41 575.02V580.02M394.91 575.02H397.91M394.91 580.02H397.91M404.62 572.1V582.1M403.12 572.1H406.12M403.12 582.1H406.12M412.83 571.59V581.59M411.33 571.59H414.33M411.33 581.59H414.33M421.04 571.08V581.08M419.54 571.08H422.54M419.54 581.08H422.54M429.25 570.57V580.57M427.75 570.57H430.75M427.75 580.57H430.75M437.46 570.06V580.06M435.96 570.06H438.96M435.96 580.06H438.96M445.67 569.55V579.55M444.17 569.55H447.17M444.17 579.55H447.17M453.88 569.05V579.05M452.38 569.05H455.38M452.38 579.05H455.38M462.09 568.54V578.54M460.59 568.54H463.59M460.59 578.54H463.59M470.3 568.03V578.03M468.8 568.03H471.8M468.8 578.03H471.8M478.51 567.52V577.52M477.01 567.52H480.01M477.01 577.52H480.01M486.72 567.01V577.01M485.22 567.01H488.22M485.22 577.01H488.22M494.93 566.5V576.5M493.43 566.5H496.43M493.43 576.5H496.43M503.14 565.5V575.5M501.64 565.5H504.64M501.64 575.5H504.64M511.35 564.4V574.4M509.85 564.4H512.85M509.85 574.4H512.85M519.56 563.7V573.7M518.06 563.7H521.06M518.06 573.7H521.06M527.77 561.5V571.5M526.27 561.5H529.27M526.27 571.5H529.27M535.98 560.4V570.4M534.48 560.4H537.48M534.48 570.4H537.48M544.19 559.9V569.9M542.69 559.9H545.69M542.69 569.9H545.69M552.4 556.1V570.1M550.9 556.1H553.9M550.9 570.1H553.9M560.61 556.1V570.1M559.11 556.1H562.11M559.11 570.1H562.11M568.82 550.5V564.5M567.32 550.5H570.32M567.32 564.5H570.32M577.03 556.1V570.1M575.53 556.1H578.53M575.53 570.1H578.53M585.24 548.5V562.5M583.74 548.5H586.74M583.74 562.5H586.74M593.45 550.5V564.5M591.95 550.5H594.95M591.95 564.5H594.95M601.66 549.8V563.8M600.16 549.8H603.16M600.16 563.8H603.16M609.87 549.8V563.8M608.37 549.8H611.37M608.37 563.8H611.37M618.08 548.2V562.2M616.58 548.2H619.58M616.58 562.2H619.58M626.29 544.2V558.2M624.79 544.2H627.79M624.79 558.2H627.79M634.5 543.7V557.7M633 543.7H636M633 557.7H636" stroke="#000" stroke-width="1.1" fill="none"/>
<path d="M585.24 893.9V913.9M583.74 893.9H586.74M583.74 913.9H586.74M593.45 895.4V915.4M591.95 895.4H594.95M591.95 915.4H594.95M601.66 897.6V917.6M600.16 897.6H603.16M600.16 917.6H603.16M609.87 898.3V918.3M608.37 898.3H611.37M608.37 918.3H611.37M618.08 900.1V920.1M616.58 900.1H619.58M616.58 920.1H619.58M626.29 901.9V921.9M624.79 901.9H627.79M624.79 921.9H627.79M634.5 903V923M633 903H636M633 923H636" stroke="#000" stroke-width="1.1" fill="none"/>
<path d="M404.62 607.4V620.4M402.87 607.4H406.37M402.87 620.4H406.37M412.83 607.74V620.74M411.08 607.74H414.58M411.08 620.74H414.58M421.04 608.07V621.07M419.29 608.07H422.79M419.29 621.07H422.79M429.25 608.41V621.41M427.5 608.41H431M427.5 621.41H431M437.46 608.75V621.75M435.71 608.75H439.21M435.71 621.75H439.21M445.67 609.08V622.08M443.92 609.08H447.42M443.92 622.08H447.42M453.88 609.42V622.42M452.13 609.42H455.63M452.13 622.42H455.63M462.09 609.75V622.75M460.34 609.75H463.84M460.34 622.75H463.84M470.3 610.09V623.09M468.55 610.09H472.05M468.55 623.09H472.05M478.51 610.43V623.43M476.76 610.43H480.26M476.76 623.43H480.26M486.72 610.76V623.76M484.97 610.76H488.47M484.97 623.76H488.47M494.93 611.1V624.1M493.18 611.1H496.68M493.18 624.1H496.68M503.14 611.69V624.69M501.39 611.69H504.89M501.39 624.69H504.89M511.35 612.27V625.27M509.6 612.27H513.1M509.6 625.27H513.1M519.56 612.86V625.86M517.81 612.86H521.31M517.81 625.86H521.31M527.77 613.45V626.45M526.02 613.45H529.52M526.02 626.45H529.52M535.98 614.04V627.04M534.23 614.04H537.73M534.23 627.04H537.73M544.19 614.62V627.62M542.44 614.62H545.94M542.44 627.62H545.94M552.4 615.21V628.21M550.65 615.21H554.15M550.65 628.21H554.15M560.61 615.8V628.8M558.86 615.8H562.36M558.86 628.8H562.36M568.82 616.24V629.24M567.07 616.24H570.57M567.07 629.24H570.57M577.03 616.69V629.69M575.28 616.69H578.78M575.28 629.69H578.78M585.24 617.13V630.13M583.49 617.13H586.99M583.49 630.13H586.99M593.45 617.57V630.57M591.7 617.57H595.2M591.7 630.57H595.2M601.66 618.01V631.01M599.91 618.01H603.41M599.91 631.01H603.41M609.87 618.46V631.46M608.12 618.46H611.62M608.12 631.46H611.62M618.08 618.9V631.9M616.33 618.9H619.83M616.33 631.9H619.83" stroke="#c8262f" stroke-width="1.1" fill="none"/>
<path d="M511.35 549.23V558.23M509.85 549.23H512.85M509.85 558.23H512.85M519.56 549.09V558.09M518.06 549.09H521.06M518.06 558.09H521.06M527.77 548.95V557.95M526.27 548.95H529.27M526.27 557.95H529.27M535.98 548.81V557.81M534.48 548.81H537.48M534.48 557.81H537.48M544.19 548.67V557.67M542.69 548.67H545.69M542.69 557.67H545.69M552.4 548.54V557.54M550.9 548.54H553.9M550.9 557.54H553.9M560.61 548.4V557.4M559.11 548.4H562.11M559.11 557.4H562.11M568.82 548.4V557.4M567.32 548.4H570.32M567.32 557.4H570.32M577.03 548.4V557.4M575.53 548.4H578.53M575.53 557.4H578.53M585.24 548.4V557.4M583.74 548.4H586.74M583.74 557.4H586.74M593.45 547.4V556.4M591.95 547.4H594.95M591.95 556.4H594.95M601.66 547.3V556.3M600.16 547.3H603.16M600.16 556.3H603.16M609.87 547.2V556.2M608.37 547.2H611.37M608.37 556.2H611.37M618.08 547.1V556.1M616.58 547.1H619.58M616.58 556.1H619.58" stroke="#c8262f" stroke-width="1.1" fill="none"/>
<path d="M73.32 579.8h5.8v7h-5.8zM81.53 574.8h5.8v7h-5.8zM89.74 576.2h5.8v7h-5.8zM97.95 576.2h5.8v7h-5.8zM106.16 577.4h5.8v7h-5.8zM114.37 577.8h5.8v7h-5.8zM122.58 578h5.8v7h-5.8zM130.79 578.2h5.8v7h-5.8zM139 578.4h5.8v7h-5.8zM147.21 578.8h5.8v7h-5.8zM155.42 578.93h5.8v7h-5.8zM163.63 579.07h5.8v7h-5.8zM171.84 579.2h5.8v7h-5.8zM180.05 579.2h5.8v7h-5.8zM188.26 579.2h5.8v7h-5.8zM196.47 579.2h5.8v7h-5.8zM204.68 579.18h5.8v7h-5.8zM212.89 579.15h5.8v7h-5.8zM221.1 579.12h5.8v7h-5.8zM229.31 579.1h5.8v7h-5.8zM237.52 579.08h5.8v7h-5.8zM245.73 579.05h5.8v7h-5.8zM253.94 579.02h5.8v7h-5.8zM262.15 579h5.8v7h-5.8zM270.36 578.92h5.8v7h-5.8zM278.57 578.85h5.8v7h-5.8zM286.78 578.78h5.8v7h-5.8zM294.99 578.7h5.8v7h-5.8zM303.2 578.38h5.8v7h-5.8zM311.41 578.05h5.8v7h-5.8zM319.62 577.73h5.8v7h-5.8zM327.83 577.4h5.8v7h-5.8zM336.04 576.98h5.8v7h-5.8zM344.25 576.56h5.8v7h-5.8zM352.46 576.13h5.8v7h-5.8zM360.67 575.71h5.8v7h-5.8zM368.88 575.29h5.8v7h-5.8zM377.09 574.87h5.8v7h-5.8zM385.3 574.44h5.8v7h-5.8zM393.51 574.02h5.8v7h-5.8zM401.72 573.6h5.8v7h-5.8zM409.93 573.09h5.8v7h-5.8zM418.14 572.58h5.8v7h-5.8zM426.35 572.07h5.8v7h-5.8zM434.56 571.56h5.8v7h-5.8zM442.77 571.05h5.8v7h-5.8zM450.98 570.55h5.8v7h-5.8zM459.19 570.04h5.8v7h-5.8zM467.4 569.53h5.8v7h-5.8zM475.61 569.02h5.8v7h-5.8zM483.82 568.51h5.8v7h-5.8zM492.03 568h5.8v7h-5.8zM500.24 567h5.8v7h-5.8zM508.45 565.9h5.8v7h-5.8zM516.66 565.2h5.8v7h-5.8zM524.87 563h5.8v7h-5.8zM533.08 561.9h5.8v7h-5.8zM541.29 561.4h5.8v7h-5.8zM549.5 559.6h5.8v7h-5.8zM557.71 559.6h5.8v7h-5.8zM565.92 554h5.8v7h-5.8zM574.13 559.6h5.8v7h-5.8zM582.34 552h5.8v7h-5.8zM590.55 554h5.8v7h-5.8zM598.76 553.3h5.8v7h-5.8zM606.97 553.3h5.8v7h-5.8zM615.18 551.7h5.8v7h-5.8zM623.39 547.7h5.8v7h-5.8zM631.6 547.2h5.8v7h-5.8z" fill="#000"/>
<circle cx="76.22" cy="570.2" r="3.1" fill="#ec0c14"/>
<circle cx="84.43" cy="564.6" r="3.1" fill="#ec0c14"/>
<circle cx="92.64" cy="564.49" r="3.1" fill="#ec0c14"/>
<circle cx="100.85" cy="564.37" r="3.1" fill="#ec0c14"/>
<circle cx="109.06" cy="564.26" r="3.1" fill="#ec0c14"/>
<circle cx="117.27" cy="564.14" r="3.1" fill="#ec0c14"/>
<circle cx="125.48" cy="564.03" r="3.1" fill="#ec0c14"/>
<circle cx="133.69" cy="563.91" r="3.1" fill="#ec0c14"/>
<circle cx="141.9" cy="563.8" r="3.1" fill="#ec0c14"/>
<circle cx="150.11" cy="563.64" r="3.1" fill="#ec0c14"/>
<circle cx="158.32" cy="563.49" r="3.1" fill="#ec0c14"/>
<circle cx="166.53" cy="563.33" r="3.1" fill="#ec0c14"/>
<circle cx="174.74" cy="563.17" r="3.1" fill="#ec0c14"/>
<circle cx="182.95" cy="563.01" r="3.1" fill="#ec0c14"/>
<circle cx="191.16" cy="562.86" r="3.1" fill="#ec0c14"/>
<circle cx="199.37" cy="562.7" r="3.1" fill="#ec0c14"/>
<circle cx="207.58" cy="562.43" r="3.1" fill="#ec0c14"/>
<circle cx="215.79" cy="562.15" r="3.1" fill="#ec0c14"/>
<circle cx="224" cy="561.88" r="3.1" fill="#ec0c14"/>
<circle cx="232.21" cy="561.6" r="3.1" fill="#ec0c14"/>
<circle cx="240.42" cy="561.33" r="3.1" fill="#ec0c14"/>
<circle cx="248.63" cy="561.05" r="3.1" fill="#ec0c14"/>
<circle cx="256.84" cy="560.77" r="3.1" fill="#ec0c14"/>
<circle cx="265.05" cy="560.5" r="3.1" fill="#ec0c14"/>
<circle cx="273.26" cy="560.12" r="3.1" fill="#ec0c14"/>
<circle cx="281.47" cy="559.75" r="3.1" fill="#ec0c14"/>
<circle cx="289.68" cy="559.38" r="3.1" fill="#ec0c14"/>
<circle cx="297.89" cy="559" r="3.1" fill="#ec0c14"/>
<circle cx="306.1" cy="558.62" r="3.1" fill="#ec0c14"/>
<circle cx="314.31" cy="558.25" r="3.1" fill="#ec0c14"/>
<circle cx="322.52" cy="557.88" r="3.1" fill="#ec0c14"/>
<circle cx="330.73" cy="557.5" r="3.1" fill="#ec0c14"/>
<circle cx="338.94" cy="557.48" r="3.1" fill="#ec0c14"/>
<circle cx="347.15" cy="557.46" r="3.1" fill="#ec0c14"/>
<circle cx="355.36" cy="557.43" r="3.1" fill="#ec0c14"/>
<circle cx="363.57" cy="557.41" r="3.1" fill="#ec0c14"/>
<circle cx="371.78" cy="557.39" r="3.1" fill="#ec0c14"/>
<circle cx="379.99" cy="557.37" r="3.1" fill="#ec0c14"/>
<circle cx="388.2" cy="557.34" r="3.1" fill="#ec0c14"/>
<circle cx="396.41" cy="557.32" r="3.1" fill="#ec0c14"/>
<circle cx="404.62" cy="557.3" r="3.1" fill="#ec0c14"/>
<circle cx="412.83" cy="557.15" r="3.1" fill="#ec0c14"/>
<circle cx="421.04" cy="557" r="3.1" fill="#ec0c14"/>
<circle cx="429.25" cy="559.8" r="3.1" fill="#ec0c14"/>
<circle cx="437.46" cy="556.5" r="3.1" fill="#ec0c14"/>
<circle cx="445.67" cy="556.14" r="3.1" fill="#ec0c14"/>
<circle cx="453.88" cy="555.79" r="3.1" fill="#ec0c14"/>
<circle cx="462.09" cy="555.43" r="3.1" fill="#ec0c14"/>
<circle cx="470.3" cy="555.07" r="3.1" fill="#ec0c14"/>
<circle cx="478.51" cy="554.71" r="3.1" fill="#ec0c14"/>
<circle cx="486.72" cy="554.36" r="3.1" fill="#ec0c14"/>
<circle cx="494.93" cy="554" r="3.1" fill="#ec0c14"/>
<circle cx="503.14" cy="553.86" r="3.1" fill="#ec0c14"/>
<circle cx="511.35" cy="553.73" r="3.1" fill="#ec0c14"/>
<circle cx="519.56" cy="553.59" r="3.1" fill="#ec0c14"/>
<circle cx="527.77" cy="553.45" r="3.1" fill="#ec0c14"/>
<circle cx="535.98" cy="553.31" r="3.1" fill="#ec0c14"/>
<circle cx="544.19" cy="553.17" r="3.1" fill="#ec0c14"/>
<circle cx="552.4" cy="553.04" r="3.1" fill="#ec0c14"/>
<circle cx="560.61" cy="552.9" r="3.1" fill="#ec0c14"/>
<circle cx="568.82" cy="552.9" r="3.1" fill="#ec0c14"/>
<circle cx="577.03" cy="552.9" r="3.1" fill="#ec0c14"/>
<circle cx="585.24" cy="552.9" r="3.1" fill="#ec0c14"/>
<circle cx="593.45" cy="551.9" r="3.1" fill="#ec0c14"/>
<circle cx="601.66" cy="551.8" r="3.1" fill="#ec0c14"/>
<circle cx="609.87" cy="551.7" r="3.1" fill="#ec0c14"/>
<circle cx="618.08" cy="551.6" r="3.1" fill="#ec0c14"/>
<circle cx="76.22" cy="599.4" r="2.6" fill="#fff" stroke="#ec0c14" stroke-width="1.2"/>
<circle cx="84.43" cy="599.8" r="2.6" fill="#fff" stroke="#ec0c14" stroke-width="1.2"/>
<circle cx="92.64" cy="600.1" r="2.6" fill="#fff" stroke="#ec0c14" stroke-width="1.2"/>
<circle cx="100.85" cy="600.4" r="2.6" fill="#fff" stroke="#ec0c14" stroke-width="1.2"/>
<circle cx="109.06" cy="600.95" r="2.6" fill="#fff" stroke="#ec0c14" stroke-width="1.2"/>
<circle cx="117.27" cy="601.5" r="2.6" fill="#fff" stroke="#ec0c14" stroke-width="1.2"/>
<circle cx="125.48" cy="601.83" r="2.6" fill="#fff" stroke="#ec0c14" stroke-width="1.2"/>
<circle cx="133.69" cy="602.17" r="2.6" fill="#fff" stroke="#ec0c14" stroke-width="1.2"/>
<circle cx="141.9" cy="602.5" r="2.6" fill="#fff" stroke="#ec0c14" stroke-width="1.2"/>
<circle cx="150.11" cy="602.97" r="2.6" fill="#fff" stroke="#ec0c14" stroke-width="1.2"/>
<circle cx="158.32" cy="603.43" r="2.6" fill="#fff" stroke="#ec0c14" stroke-width="1.2"/>
<circle cx="166.53" cy="603.9" r="2.6" fill="#fff" stroke="#ec0c14" stroke-width="1.2"/>
<circle cx="174.74" cy="604.3" r="2.6" fill="#fff" stroke="#ec0c14" stroke-width="1.2"/>
<circle cx="182.95" cy="604.7" r="2.6" fill="#fff" stroke="#ec0c14" stroke-width="1.2"/>
<circle cx="191.16" cy="605.1" r="2.6" fill="#fff" stroke="#ec0c14" stroke-width="1.2"/>
<circle cx="199.37" cy="605.5" r="2.6" fill="#fff" stroke="#ec0c14" stroke-width="1.2"/>
<circle cx="207.58" cy="605.88" r="2.6" fill="#fff" stroke="#ec0c14" stroke-width="1.2"/>
<circle cx="215.79" cy="606.25" r="2.6" fill="#fff" stroke="#ec0c14" stroke-width="1.2"/>
<circle cx="224" cy="606.62" r="2.6" fill="#fff" stroke="#ec0c14" stroke-width="1.2"/>
<circle cx="232.21" cy="607" r="2.6" fill="#fff" stroke="#ec0c14" stroke-width="1.2"/>
<circle cx="240.42" cy="607.38" r="2.6" fill="#fff" stroke="#ec0c14" stroke-width="1.2"/>
<circle cx="248.63" cy="607.75" r="2.6" fill="#fff" stroke="#ec0c14" stroke-width="1.2"/>
<circle cx="256.84" cy="608.12" r="2.6" fill="#fff" stroke="#ec0c14" stroke-width="1.2"/>
<circle cx="265.05" cy="608.5" r="2.6" fill="#fff" stroke="#ec0c14" stroke-width="1.2"/>
<circle cx="273.26" cy="608.74" r="2.6" fill="#fff" stroke="#ec0c14" stroke-width="1.2"/>
<circle cx="281.47" cy="608.99" r="2.6" fill="#fff" stroke="#ec0c14" stroke-width="1.2"/>
<circle cx="289.68" cy="609.23" r="2.6" fill="#fff" stroke="#ec0c14" stroke-width="1.2"/>
<circle cx="297.89" cy="609.48" r="2.6" fill="#fff" stroke="#ec0c14" stroke-width="1.2"/>
<circle cx="306.1" cy="609.72" r="2.6" fill="#fff" stroke="#ec0c14" stroke-width="1.2"/>
<circle cx="314.31" cy="609.97" r="2.6" fill="#fff" stroke="#ec0c14" stroke-width="1.2"/>
<circle cx="322.52" cy="610.21" r="2.6" fill="#fff" stroke="#ec0c14" stroke-width="1.2"/>
<circle cx="330.73" cy="610.46" r="2.6" fill="#fff" stroke="#ec0c14" stroke-width="1.2"/>
<circle cx="338.94" cy="610.7" r="2.6" fill="#fff" stroke="#ec0c14" stroke-width="1.2"/>
<circle cx="347.15" cy="611.1" r="2.6" fill="#fff" stroke="#ec0c14" stroke-width="1.2"/>
<circle cx="355.36" cy="611.5" r="2.6" fill="#fff" stroke="#ec0c14" stroke-width="1.2"/>
<circle cx="363.57" cy="611.9" r="2.6" fill="#fff" stroke="#ec0c14" stroke-width="1.2"/>
<circle cx="371.78" cy="612.3" r="2.6" fill="#fff" stroke="#ec0c14" stroke-width="1.2"/>
<circle cx="379.99" cy="612.7" r="2.6" fill="#fff" stroke="#ec0c14" stroke-width="1.2"/>
<circle cx="388.2" cy="613.1" r="2.6" fill="#fff" stroke="#ec0c14" stroke-width="1.2"/>
<circle cx="396.41" cy="613.5" r="2.6" fill="#fff" stroke="#ec0c14" stroke-width="1.2"/>
<circle cx="404.62" cy="613.9" r="2.6" fill="#fff" stroke="#ec0c14" stroke-width="1.2"/>
<circle cx="412.83" cy="614.24" r="2.6" fill="#fff" stroke="#ec0c14" stroke-width="1.2"/>
<circle cx="421.04" cy="614.57" r="2.6" fill="#fff" stroke="#ec0c14" stroke-width="1.2"/>
<circle cx="429.25" cy="614.91" r="2.6" fill="#fff" stroke="#ec0c14" stroke-width="1.2"/>
<circle cx="437.46" cy="615.25" r="2.6" fill="#fff" stroke="#ec0c14" stroke-width="1.2"/>
<circle cx="445.67" cy="615.58" r="2.6" fill="#fff" stroke="#ec0c14" stroke-width="1.2"/>
<circle cx="453.88" cy="615.92" r="2.6" fill="#fff" stroke="#ec0c14" stroke-width="1.2"/>
<circle cx="462.09" cy="616.25" r="2.6" fill="#fff" stroke="#ec0c14" stroke-width="1.2"/>
<circle cx="470.3" cy="616.59" r="2.6" fill="#fff" stroke="#ec0c14" stroke-width="1.2"/>
<circle cx="478.51" cy="616.93" r="2.6" fill="#fff" stroke="#ec0c14" stroke-width="1.2"/>
<circle cx="486.72" cy="617.26" r="2.6" fill="#fff" stroke="#ec0c14" stroke-width="1.2"/>
<circle cx="494.93" cy="617.6" r="2.6" fill="#fff" stroke="#ec0c14" stroke-width="1.2"/>
<circle cx="503.14" cy="618.19" r="2.6" fill="#fff" stroke="#ec0c14" stroke-width="1.2"/>
<circle cx="511.35" cy="618.77" r="2.6" fill="#fff" stroke="#ec0c14" stroke-width="1.2"/>
<circle cx="519.56" cy="619.36" r="2.6" fill="#fff" stroke="#ec0c14" stroke-width="1.2"/>
<circle cx="527.77" cy="619.95" r="2.6" fill="#fff" stroke="#ec0c14" stroke-width="1.2"/>
<circle cx="535.98" cy="620.54" r="2.6" fill="#fff" stroke="#ec0c14" stroke-width="1.2"/>
<circle cx="544.19" cy="621.12" r="2.6" fill="#fff" stroke="#ec0c14" stroke-width="1.2"/>
<circle cx="552.4" cy="621.71" r="2.6" fill="#fff" stroke="#ec0c14" stroke-width="1.2"/>
<circle cx="560.61" cy="622.3" r="2.6" fill="#fff" stroke="#ec0c14" stroke-width="1.2"/>
<circle cx="568.82" cy="622.74" r="2.6" fill="#fff" stroke="#ec0c14" stroke-width="1.2"/>
<circle cx="577.03" cy="623.19" r="2.6" fill="#fff" stroke="#ec0c14" stroke-width="1.2"/>
<circle cx="585.24" cy="623.63" r="2.6" fill="#fff" stroke="#ec0c14" stroke-width="1.2"/>
<circle cx="593.45" cy="624.07" r="2.6" fill="#fff" stroke="#ec0c14" stroke-width="1.2"/>
<circle cx="601.66" cy="624.51" r="2.6" fill="#fff" stroke="#ec0c14" stroke-width="1.2"/>
<circle cx="609.87" cy="624.96" r="2.6" fill="#fff" stroke="#ec0c14" stroke-width="1.2"/>
<circle cx="618.08" cy="625.4" r="2.6" fill="#fff" stroke="#ec0c14" stroke-width="1.2"/>
<path d="M73.72 812.9h5v5h-5zM81.93 814.4h5v5h-5zM90.14 815.4h5v5h-5zM98.35 816.9h5v5h-5zM106.56 817.8h5v5h-5zM114.77 818.6h5v5h-5zM122.98 819.8h5v5h-5zM131.19 821.1h5v5h-5zM139.4 821.8h5v5h-5zM147.61 822.8h5v5h-5zM155.82 824.3h5v5h-5zM164.03 825.5h5v5h-5zM172.24 826.8h5v5h-5zM180.45 828h5v5h-5zM188.66 829h5v5h-5zM196.87 830.3h5v5h-5zM205.08 831.7h5v5h-5zM213.29 832.7h5v5h-5zM221.5 833.9h5v5h-5zM229.71 835.2h5v5h-5zM237.92 836.7h5v5h-5zM246.13 838.3h5v5h-5zM254.34 839.2h5v5h-5zM262.55 840.8h5v5h-5zM270.76 842.3h5v5h-5zM278.97 844.5h5v5h-5zM287.18 845.4h5v5h-5zM295.39 847h5v5h-5zM303.6 847.9h5v5h-5zM311.81 849.1h5v5h-5zM320.02 851h5v5h-5zM328.23 852.5h5v5h-5zM336.44 854.7h5v5h-5zM344.65 856.3h5v5h-5zM352.86 857.2h5v5h-5zM361.07 858.7h5v5h-5zM369.28 860.3h5v5h-5zM377.49 862.5h5v5h-5zM385.7 863.4h5v5h-5zM393.91 864.9h5v5h-5zM402.12 866.5h5v5h-5zM410.33 868h5v5h-5zM418.54 869.4h5v5h-5zM426.75 871.2h5v5h-5zM434.96 873h5v5h-5zM443.17 874.1h5v5h-5zM451.38 875.6h5v5h-5zM459.59 876.6h5v5h-5zM467.8 877.4h5v5h-5zM476.01 878.5h5v5h-5zM484.22 879h5v5h-5zM492.43 880.3h5v5h-5zM500.64 882.8h5v5h-5zM508.85 883.9h5v5h-5zM517.06 885.4h5v5h-5zM525.27 887.6h5v5h-5zM533.48 889.4h5v5h-5zM541.69 891.2h5v5h-5zM549.9 893h5v5h-5zM558.11 894.1h5v5h-5zM566.32 902.9h5v5h-5zM574.53 897.4h5v5h-5zM582.74 901.4h5v5h-5zM590.95 902.9h5v5h-5zM599.16 905.1h5v5h-5zM607.37 905.8h5v5h-5zM615.58 907.6h5v5h-5zM623.79 909.4h5v5h-5zM632 910.5h5v5h-5z" fill="#fff" stroke="#000" stroke-width="1.3"/>
</g>
<line x1="95" y1="900.7" x2="145.6" y2="900.7" stroke="#000" stroke-width="1.3"/>
<path d="M119 898.15h6v5.5h-6z" fill="#000"/>
<line x1="96.2" y1="929.3" x2="147.2" y2="929.3" stroke="#ec0c14" stroke-width="1.3"/>
<circle cx="121.7" cy="929.6" r="3.2" fill="#ec0c14"/>
<text x="153.2" y="907.3" font-size="22" textLength="60.8" lengthAdjust="spacingAndGlyphs">Li-rich</text>
<text x="153.2" y="935.8" font-size="22" textLength="64.6" lengthAdjust="spacingAndGlyphs">Ni-rich</text>
<line x1="81.4" y1="1008.1" x2="81.4" y2="1222.01" stroke="#000" stroke-width="1.4"/>
<line x1="73.4" y1="1221.31" x2="81.4" y2="1221.31" stroke="#000" stroke-width="1.4"/>
<line x1="73.4" y1="1197.7" x2="81.4" y2="1197.7" stroke="#000" stroke-width="1.4"/>
<line x1="73.4" y1="1174.08" x2="81.4" y2="1174.08" stroke="#000" stroke-width="1.4"/>
<line x1="73.4" y1="1150.47" x2="81.4" y2="1150.47" stroke="#000" stroke-width="1.4"/>
<line x1="73.4" y1="1126.86" x2="81.4" y2="1126.86" stroke="#000" stroke-width="1.4"/>
<line x1="73.4" y1="1103.25" x2="81.4" y2="1103.25" stroke="#000" stroke-width="1.4"/>
<line x1="73.4" y1="1079.64" x2="81.4" y2="1079.64" stroke="#000" stroke-width="1.4"/>
<line x1="73.4" y1="1056.02" x2="81.4" y2="1056.02" stroke="#000" stroke-width="1.4"/>
<line x1="73.4" y1="1032.41" x2="81.4" y2="1032.41" stroke="#000" stroke-width="1.4"/>
<line x1="73.4" y1="1008.8" x2="81.4" y2="1008.8" stroke="#000" stroke-width="1.4"/>
<line x1="77.4" y1="1209.5" x2="81.4" y2="1209.5" stroke="#000" stroke-width="1.4"/>
<line x1="77.4" y1="1185.89" x2="81.4" y2="1185.89" stroke="#000" stroke-width="1.4"/>
<line x1="77.4" y1="1162.28" x2="81.4" y2="1162.28" stroke="#000" stroke-width="1.4"/>
<line x1="77.4" y1="1138.67" x2="81.4" y2="1138.67" stroke="#000" stroke-width="1.4"/>
<line x1="77.4" y1="1115.05" x2="81.4" y2="1115.05" stroke="#000" stroke-width="1.4"/>
<line x1="77.4" y1="1091.44" x2="81.4" y2="1091.44" stroke="#000" stroke-width="1.4"/>
<line x1="77.4" y1="1067.83" x2="81.4" y2="1067.83" stroke="#000" stroke-width="1.4"/>
<line x1="77.4" y1="1044.22" x2="81.4" y2="1044.22" stroke="#000" stroke-width="1.4"/>
<line x1="77.4" y1="1020.61" x2="81.4" y2="1020.61" stroke="#000" stroke-width="1.4"/>
<line x1="72.9" y1="1221.31" x2="628.7" y2="1221.31" stroke="#000" stroke-width="1.4"/>
<line x1="152.8" y1="1221.31" x2="152.8" y2="1230.31" stroke="#000" stroke-width="1.4"/>
<line x1="232" y1="1221.31" x2="232" y2="1230.31" stroke="#000" stroke-width="1.4"/>
<line x1="311.2" y1="1221.31" x2="311.2" y2="1230.31" stroke="#000" stroke-width="1.4"/>
<line x1="390.4" y1="1221.31" x2="390.4" y2="1230.31" stroke="#000" stroke-width="1.4"/>
<line x1="469.6" y1="1221.31" x2="469.6" y2="1230.31" stroke="#000" stroke-width="1.4"/>
<line x1="548.8" y1="1221.31" x2="548.8" y2="1230.31" stroke="#000" stroke-width="1.4"/>
<line x1="628" y1="1221.31" x2="628" y2="1230.31" stroke="#000" stroke-width="1.4"/>
<line x1="113.2" y1="1221.31" x2="113.2" y2="1225.81" stroke="#000" stroke-width="1.4"/>
<line x1="192.4" y1="1221.31" x2="192.4" y2="1225.81" stroke="#000" stroke-width="1.4"/>
<line x1="271.6" y1="1221.31" x2="271.6" y2="1225.81" stroke="#000" stroke-width="1.4"/>
<line x1="350.8" y1="1221.31" x2="350.8" y2="1225.81" stroke="#000" stroke-width="1.4"/>
<line x1="430" y1="1221.31" x2="430" y2="1225.81" stroke="#000" stroke-width="1.4"/>
<line x1="509.2" y1="1221.31" x2="509.2" y2="1225.81" stroke="#000" stroke-width="1.4"/>
<line x1="588.4" y1="1221.31" x2="588.4" y2="1225.81" stroke="#000" stroke-width="1.4"/>
<text transform="translate(67,1225.51) scale(0.98,1)" font-size="19" text-anchor="end">620</text>
<text transform="translate(67,1201.9) scale(0.98,1)" font-size="19" text-anchor="end">640</text>
<text transform="translate(67,1178.28) scale(0.98,1)" font-size="19" text-anchor="end">660</text>
<text transform="translate(67,1154.67) scale(0.98,1)" font-size="19" text-anchor="end">680</text>
<text transform="translate(67,1131.06) scale(0.98,1)" font-size="19" text-anchor="end">700</text>
<text transform="translate(67,1107.45) scale(0.98,1)" font-size="19" text-anchor="end">720</text>
<text transform="translate(67,1083.84) scale(0.98,1)" font-size="19" text-anchor="end">740</text>
<text transform="translate(67,1060.22) scale(0.98,1)" font-size="19" text-anchor="end">760</text>
<text transform="translate(67,1036.61) scale(0.98,1)" font-size="19" text-anchor="end">780</text>
<text transform="translate(67,1013) scale(0.98,1)" font-size="19" text-anchor="end">800</text>
<text x="152.8" y="1249.5" font-size="19" text-anchor="middle">30</text>
<text x="232" y="1249.5" font-size="19" text-anchor="middle">40</text>
<text x="311.2" y="1249.5" font-size="19" text-anchor="middle">50</text>
<text x="390.4" y="1249.5" font-size="19" text-anchor="middle">60</text>
<text x="469.6" y="1249.5" font-size="19" text-anchor="middle">70</text>
<text x="548.8" y="1249.5" font-size="19" text-anchor="middle">80</text>
<text x="628" y="1249.5" font-size="19" text-anchor="middle">90</text>
<text x="298.4" y="1271" font-size="21.5" textLength="115" lengthAdjust="spacingAndGlyphs">Cycle (No.)</text>
<text transform="translate(25,1250.4) rotate(-90)" font-size="21.5" textLength="271" lengthAdjust="spacingAndGlyphs">Discharge energy (mWh/g)</text>
<text x="584.3" y="1040.2" font-size="31" stroke="#111" stroke-width="0.5" textLength="37.5" lengthAdjust="spacingAndGlyphs" fill="#111">(C)</text>
<g clip-path="url(#cC)">
<path d="M89.44 1017.3V1043.7M85.94 1017.3H92.94M85.94 1043.7H92.94M97.36 1020.4V1047M93.86 1020.4H100.86M93.86 1047H100.86M105.28 1024.9V1049.7M101.78 1024.9H108.78M101.78 1049.7H108.78M113.2 1027.1V1052.3M109.7 1027.1H116.7M109.7 1052.3H116.7M121.12 1030V1055.6M117.62 1030H124.62M117.62 1055.6H124.62M129.04 1032.2V1057.4M125.54 1032.2H132.54M125.54 1057.4H132.54M136.96 1035.7V1060.3M133.46 1035.7H140.46M133.46 1060.3H140.46M144.88 1037.9V1062.1M141.38 1037.9H148.38M141.38 1062.1H148.38M152.8 1040.4V1064.4M149.3 1040.4H156.3M149.3 1064.4H156.3M160.72 1042.3V1066.5M157.22 1042.3H164.22M157.22 1066.5H164.22M168.64 1045.7V1069.3M165.14 1045.7H172.14M165.14 1069.3H172.14M176.56 1048V1071.8M173.06 1048H180.06M173.06 1071.8H180.06M184.48 1050.2V1074M180.98 1050.2H187.98M180.98 1074H187.98M192.4 1052V1076.2M188.9 1052H195.9M188.9 1076.2H195.9M200.32 1054.4V1077.6M196.82 1054.4H203.82M196.82 1077.6H203.82M208.24 1056.8V1080M204.74 1056.8H211.74M204.74 1080H211.74M216.16 1058.3V1081.5M212.66 1058.3H219.66M212.66 1081.5H219.66M224.08 1060.1V1083.3M220.58 1060.1H227.58M220.58 1083.3H227.58M232 1062.7V1084.9M228.5 1062.7H235.5M228.5 1084.9H235.5M239.92 1064.5V1088.3M236.42 1064.5H243.42M236.42 1088.3H243.42M247.84 1067V1089M244.34 1067H251.34M244.34 1089H251.34M255.76 1068.5V1091.5M252.26 1068.5H259.26M252.26 1091.5H259.26M263.68 1071.2V1094.4M260.18 1071.2H267.18M260.18 1094.4H267.18M271.6 1073V1095M268.1 1073H275.1M268.1 1095H275.1M279.52 1076.7V1098.3M276.02 1076.7H283.02M276.02 1098.3H283.02M287.44 1078.1V1099.7M283.94 1078.1H290.94M283.94 1099.7H290.94M295.36 1079.8V1101.2M291.86 1079.8H298.86M291.86 1101.2H298.86M303.28 1079.5V1103.5M299.78 1079.5H306.78M299.78 1103.5H306.78M311.2 1081.8V1103.8M307.7 1081.8H314.7M307.7 1103.8H314.7M319.12 1083.2V1105.2M315.62 1083.2H322.62M315.62 1105.2H322.62M327.04 1086.4V1109.4M323.54 1086.4H330.54M323.54 1109.4H330.54M334.96 1089.4V1112.4M331.46 1089.4H338.46M331.46 1112.4H338.46M342.88 1093.3V1116.3M339.38 1093.3H346.38M339.38 1116.3H346.38M350.8 1094.9V1117.9M347.3 1094.9H354.3M347.3 1117.9H354.3M358.72 1096.9V1119.9M355.22 1096.9H362.22M355.22 1119.9H362.22M366.64 1099.9V1122.9M363.14 1099.9H370.14M363.14 1122.9H370.14M374.56 1101.3V1124.3M371.06 1101.3H378.06M371.06 1124.3H378.06M382.48 1103.3V1126.3M378.98 1103.3H385.98M378.98 1126.3H385.98M390.4 1107V1130M386.9 1107H393.9M386.9 1130H393.9M398.32 1107V1130M394.82 1107H401.82M394.82 1130H401.82M406.24 1110V1133M402.74 1110H409.74M402.74 1133H409.74M414.16 1112V1135M410.66 1112H417.66M410.66 1135H417.66M422.08 1113V1136M418.58 1113H425.58M418.58 1136H425.58M430 1115V1138M426.5 1115H433.5M426.5 1138H433.5M437.92 1118.4V1141.4M434.42 1118.4H441.42M434.42 1141.4H441.42M445.84 1120.4V1143.4M442.34 1120.4H449.34M442.34 1143.4H449.34M453.76 1123.3V1146.3M450.26 1123.3H457.26M450.26 1146.3H457.26M461.68 1125.3V1148.3M458.18 1125.3H465.18M458.18 1148.3H465.18M469.6 1123.9V1148.9M466.1 1123.9H473.1M466.1 1148.9H473.1M477.52 1123.8V1149.8M474.02 1123.8H481.02M474.02 1149.8H481.02M485.44 1124.9V1149.9M481.94 1124.9H488.94M481.94 1149.9H488.94M493.36 1128V1152M489.86 1128H496.86M489.86 1152H496.86M501.28 1133.9V1156.9M497.78 1133.9H504.78M497.78 1156.9H504.78M509.2 1135V1158M505.7 1135H512.7M505.7 1158H512.7M517.12 1142.6V1165.6M513.62 1142.6H520.62M513.62 1165.6H520.62M525.04 1146V1169M521.54 1146H528.54M521.54 1169H528.54M532.96 1148.1V1171.1M529.46 1148.1H536.46M529.46 1171.1H536.46M540.88 1150.7V1173.7M537.38 1150.7H544.38M537.38 1173.7H544.38M548.8 1154V1177M545.3 1154H552.3M545.3 1177H552.3M556.72 1158.1V1181.1M553.22 1158.1H560.22M553.22 1181.1H560.22M564.64 1177V1193M561.14 1177H568.14M561.14 1193H568.14M572.56 1166.1V1188.1M569.06 1166.1H576.06M569.06 1188.1H576.06M580.48 1171.8V1194.8M576.98 1171.8H583.98M576.98 1194.8H583.98M588.4 1173.5V1196.5M584.9 1173.5H591.9M584.9 1196.5H591.9M596.32 1177.5V1200.5M592.82 1177.5H599.82M592.82 1200.5H599.82M604.24 1181.7V1204.7M600.74 1181.7H607.74M600.74 1204.7H607.74M612.16 1186.5V1211.3M608.66 1186.5H615.66M608.66 1211.3H615.66M620.08 1191.4V1217.4M616.58 1191.4H623.58M616.58 1217.4H623.58M628 1197.1V1219.1M624.5 1197.1H631.5M624.5 1219.1H631.5" stroke="#000" stroke-width="1.3" fill="none"/>
<polyline points="81.52,1009 89.44,1030.5 97.36,1033.7 105.28,1037.3 113.2,1039.7 121.12,1042.8 129.04,1044.8 136.96,1048 144.88,1050 152.8,1052.4 160.72,1054.4 168.64,1057.5 176.56,1059.9 184.48,1062.1 192.4,1064.1 200.32,1066 208.24,1068.4 216.16,1069.9 224.08,1071.7 232,1073.8 239.92,1076.4 247.84,1078 255.76,1080 263.68,1082.8 271.6,1084 279.52,1087.5 287.44,1088.9 295.36,1090.5 303.28,1091.5 311.2,1092.8 319.12,1094.2 327.04,1097.9 334.96,1100.9 342.88,1104.8 350.8,1106.4 358.72,1108.4 366.64,1111.4 374.56,1112.8 382.48,1114.8 390.4,1118.5 398.32,1118.5 406.24,1121.5 414.16,1123.5 422.08,1124.5 430,1126.5 437.92,1129.9 445.84,1131.9 453.76,1134.8 461.68,1136.8 469.6,1136.4 477.52,1136.8 485.44,1137.4 493.36,1140 501.28,1145.4 509.2,1146.5 517.12,1154.1 525.04,1157.5 532.96,1159.6 540.88,1162.2 548.8,1165.5 556.72,1169.6 564.64,1185 572.56,1177.1 580.48,1183.3 588.4,1185 596.32,1189 604.24,1193.2 612.16,1198.9 620.08,1204.4 628,1208.1" stroke="#000" stroke-width="1" fill="none"/>
<path d="M86.49 1027.55h5.9v5.9h-5.9zM94.41 1030.75h5.9v5.9h-5.9zM102.33 1034.35h5.9v5.9h-5.9zM110.25 1036.75h5.9v5.9h-5.9zM118.17 1039.85h5.9v5.9h-5.9zM126.09 1041.85h5.9v5.9h-5.9zM134.01 1045.05h5.9v5.9h-5.9zM141.93 1047.05h5.9v5.9h-5.9zM149.85 1049.45h5.9v5.9h-5.9zM157.77 1051.45h5.9v5.9h-5.9zM165.69 1054.55h5.9v5.9h-5.9zM173.61 1056.95h5.9v5.9h-5.9zM181.53 1059.15h5.9v5.9h-5.9zM189.45 1061.15h5.9v5.9h-5.9zM197.37 1063.05h5.9v5.9h-5.9zM205.29 1065.45h5.9v5.9h-5.9zM213.21 1066.95h5.9v5.9h-5.9zM221.13 1068.75h5.9v5.9h-5.9zM229.05 1070.85h5.9v5.9h-5.9zM236.97 1073.45h5.9v5.9h-5.9zM244.89 1075.05h5.9v5.9h-5.9zM252.81 1077.05h5.9v5.9h-5.9zM260.73 1079.85h5.9v5.9h-5.9zM268.65 1081.05h5.9v5.9h-5.9zM276.57 1084.55h5.9v5.9h-5.9zM284.49 1085.95h5.9v5.9h-5.9zM292.41 1087.55h5.9v5.9h-5.9zM300.33 1088.55h5.9v5.9h-5.9zM308.25 1089.85h5.9v5.9h-5.9zM316.17 1091.25h5.9v5.9h-5.9zM324.09 1094.95h5.9v5.9h-5.9zM332.01 1097.95h5.9v5.9h-5.9zM339.93 1101.85h5.9v5.9h-5.9zM347.85 1103.45h5.9v5.9h-5.9zM355.77 1105.45h5.9v5.9h-5.9zM363.69 1108.45h5.9v5.9h-5.9zM371.61 1109.85h5.9v5.9h-5.9zM379.53 1111.85h5.9v5.9h-5.9zM387.45 1115.55h5.9v5.9h-5.9zM395.37 1115.55h5.9v5.9h-5.9zM403.29 1118.55h5.9v5.9h-5.9zM411.21 1120.55h5.9v5.9h-5.9zM419.13 1121.55h5.9v5.9h-5.9zM427.05 1123.55h5.9v5.9h-5.9zM434.97 1126.95h5.9v5.9h-5.9zM442.89 1128.95h5.9v5.9h-5.9zM450.81 1131.85h5.9v5.9h-5.9zM458.73 1133.85h5.9v5.9h-5.9zM466.65 1133.45h5.9v5.9h-5.9zM474.57 1133.85h5.9v5.9h-5.9zM482.49 1134.45h5.9v5.9h-5.9zM490.41 1137.05h5.9v5.9h-5.9zM498.33 1142.45h5.9v5.9h-5.9zM506.25 1143.55h5.9v5.9h-5.9zM514.17 1151.15h5.9v5.9h-5.9zM522.09 1154.55h5.9v5.9h-5.9zM530.01 1156.65h5.9v5.9h-5.9zM537.93 1159.25h5.9v5.9h-5.9zM545.85 1162.55h5.9v5.9h-5.9zM553.77 1166.65h5.9v5.9h-5.9zM561.69 1182.05h5.9v5.9h-5.9zM569.61 1174.15h5.9v5.9h-5.9zM577.53 1180.35h5.9v5.9h-5.9zM585.45 1182.05h5.9v5.9h-5.9zM593.37 1186.05h5.9v5.9h-5.9zM601.29 1190.25h5.9v5.9h-5.9zM609.21 1195.95h5.9v5.9h-5.9zM617.13 1201.45h5.9v5.9h-5.9zM625.05 1205.15h5.9v5.9h-5.9z" fill="#000"/>
<path d="M81.52 1013.5V1027.5M77.52 1013.5H85.52M77.52 1027.5H85.52M89.44 1048.8V1056.8M85.44 1048.8H93.44M85.44 1056.8H93.44M97.36 1050.3V1059.3M93.36 1050.3H101.36M93.36 1059.3H101.36M105.28 1049.1V1064.7M101.28 1049.1H109.28M101.28 1064.7H109.28M113.2 1051.5V1065.5M109.2 1051.5H117.2M109.2 1065.5H117.2M121.12 1054.1V1066.1M117.12 1054.1H125.12M117.12 1066.1H125.12M129.04 1054.4V1069.8M125.04 1054.4H133.04M125.04 1069.8H133.04M136.96 1051.2V1077M132.96 1051.2H140.96M132.96 1077H140.96M144.88 1056.9V1078.1M140.88 1056.9H148.88M140.88 1078.1H148.88M152.8 1058.5V1073.7M148.8 1058.5H156.8M148.8 1073.7H156.8M160.72 1060V1071M156.72 1060H164.72M156.72 1071H164.72M168.64 1050.2V1093M164.64 1050.2H172.64M164.64 1093H172.64M176.56 1049.1V1092.9M172.56 1049.1H180.56M172.56 1092.9H180.56M184.48 1068.6V1083.8M180.48 1068.6H188.48M180.48 1083.8H188.48M192.4 1069.2V1083.2M188.4 1069.2H196.4M188.4 1083.2H196.4M200.32 1060.9V1099.3M196.32 1060.9H204.32M196.32 1099.3H204.32M208.24 1058.5V1098.5M204.24 1058.5H212.24M204.24 1098.5H212.24M216.16 1073.8V1097M212.16 1073.8H220.16M212.16 1097H220.16M224.08 1070.5V1106.5M220.08 1070.5H228.08M220.08 1106.5H228.08M232 1070.6V1109.6M228 1070.6H236M228 1109.6H236M239.92 1080.5V1110.5M235.92 1080.5H243.92M235.92 1110.5H243.92M247.84 1084.6V1115.8M243.84 1084.6H251.84M243.84 1115.8H251.84M255.76 1083.2V1117.2M251.76 1083.2H259.76M251.76 1117.2H259.76M263.68 1089.6V1118.8M259.68 1089.6H267.68M259.68 1118.8H267.68M271.6 1090V1120M267.6 1090H275.6M267.6 1120H275.6M279.52 1091.2V1121.2M275.52 1091.2H283.52M275.52 1121.2H283.52M287.44 1091.2V1117.2M283.44 1091.2H291.44M283.44 1117.2H291.44M295.36 1092V1121.2M291.36 1092H299.36M291.36 1121.2H299.36M303.28 1087.1V1126.1M299.28 1087.1H307.28M299.28 1126.1H307.28M311.2 1095.5V1126.3M307.2 1095.5H315.2M307.2 1126.3H315.2M319.12 1098.8V1124.8M315.12 1098.8H323.12M315.12 1124.8H323.12M327.04 1097.4V1129.4M323.04 1097.4H331.04M323.04 1129.4H331.04M334.96 1100V1132M330.96 1100H338.96M330.96 1132H338.96M342.88 1103V1136M338.88 1103H346.88M338.88 1136H346.88M350.8 1106.5V1138.5M346.8 1106.5H354.8M346.8 1138.5H354.8M358.72 1109V1136M354.72 1109H362.72M354.72 1136H362.72M366.64 1107V1140M362.64 1107H370.64M362.64 1140H370.64M374.56 1105.5V1137.5M370.56 1105.5H378.56M370.56 1137.5H378.56M382.48 1110.5V1138.5M378.48 1110.5H386.48M378.48 1138.5H386.48M390.4 1110.5V1126.5M386.4 1110.5H394.4M386.4 1126.5H394.4M398.32 1096.8V1142.2M394.32 1096.8H402.32M394.32 1142.2H402.32M406.24 1104.5V1148.5M402.24 1104.5H410.24M402.24 1148.5H410.24M414.16 1117.5V1139.5M410.16 1117.5H418.16M410.16 1139.5H418.16M422.08 1110V1131M418.08 1110H426.08M418.08 1131H426.08M430 1102V1151.4M426 1102H434M426 1151.4H434M437.92 1118.5V1157.5M433.92 1118.5H441.92M433.92 1157.5H441.92M445.84 1123.4V1157.4M441.84 1123.4H449.84M441.84 1157.4H449.84M453.76 1122.9V1159.9M449.76 1122.9H457.76M449.76 1159.9H457.76M461.68 1124.9V1161.9M457.68 1124.9H465.68M457.68 1161.9H465.68M469.6 1128V1165M465.6 1128H473.6M465.6 1165H473.6M477.52 1130.1V1166.1M473.52 1130.1H481.52M473.52 1166.1H481.52M485.44 1130.5V1168.5M481.44 1130.5H489.44M481.44 1168.5H489.44M493.36 1132.4V1169.4M489.36 1132.4H497.36M489.36 1169.4H497.36M501.28 1131.6V1168.6M497.28 1131.6H505.28M497.28 1168.6H505.28M509.2 1132.9V1172.9M505.2 1132.9H513.2M505.2 1172.9H513.2M517.12 1135V1174M513.12 1135H521.12M513.12 1174H521.12M525.04 1137.6V1174.6M521.04 1137.6H529.04M521.04 1174.6H529.04M532.96 1135.4V1174.4M528.96 1135.4H536.96M528.96 1174.4H536.96M540.88 1137V1178M536.88 1137H544.88M536.88 1178H544.88M548.8 1141.1V1182.1M544.8 1141.1H552.8M544.8 1182.1H552.8M556.72 1138.6V1185.8M552.72 1138.6H560.72M552.72 1185.8H560.72M564.64 1148.4V1187.4M560.64 1148.4H568.64M560.64 1187.4H568.64M572.56 1140.9V1180.9M568.56 1140.9H576.56M568.56 1180.9H576.56M580.48 1138.9V1182.9M576.48 1138.9H584.48M576.48 1182.9H584.48M588.4 1151.6V1192.6M584.4 1151.6H592.4M584.4 1192.6H592.4M596.32 1156.3V1195.3M592.32 1156.3H600.32M592.32 1195.3H600.32M604.24 1147.6V1190.6M600.24 1147.6H608.24M600.24 1190.6H608.24M612.16 1149.6V1193.6M608.16 1149.6H616.16M608.16 1193.6H616.16" stroke="#c8262f" stroke-width="1.2" fill="none"/>
<polyline points="81.52,1020.5 89.44,1052.8 97.36,1054.8 105.28,1056.9 113.2,1058.5 121.12,1060.1 129.04,1062.1 136.96,1064.1 144.88,1067.5 152.8,1066.1 160.72,1065.5 168.64,1071.6 176.56,1071 184.48,1076.2 192.4,1076.2 200.32,1080.1 208.24,1078.5 216.16,1085.4 224.08,1088.5 232,1090.1 239.92,1095.5 247.84,1100.2 255.76,1100.2 263.68,1104.2 271.6,1105 279.52,1106.2 287.44,1104.2 295.36,1106.6 303.28,1106.6 311.2,1110.9 319.12,1111.8 327.04,1113.4 334.96,1116 342.88,1119.5 350.8,1122.5 358.72,1122.5 366.64,1123.5 374.56,1121.5 382.48,1124.5 390.4,1118.5 398.32,1119.5 406.24,1126.5 414.16,1128.5 422.08,1120.5 430,1126.7 437.92,1138 445.84,1140.4 453.76,1141.4 461.68,1143.4 469.6,1146.5 477.52,1148.1 485.44,1149.5 493.36,1150.9 501.28,1150.1 509.2,1152.9 517.12,1154.5 525.04,1156.1 532.96,1154.9 540.88,1157.5 548.8,1161.6 556.72,1162.2 564.64,1167.9 572.56,1160.9 580.48,1160.9 588.4,1172.1 596.32,1175.8 604.24,1169.1 612.16,1171.6" stroke="#ec0c14" stroke-width="1" fill="none"/>
<circle cx="81.52" cy="1020.5" r="3.2" fill="#ec0c14"/>
<circle cx="89.44" cy="1052.8" r="3.2" fill="#ec0c14"/>
<circle cx="97.36" cy="1054.8" r="3.2" fill="#ec0c14"/>
<circle cx="105.28" cy="1056.9" r="3.2" fill="#ec0c14"/>
<circle cx="113.2" cy="1058.5" r="3.2" fill="#ec0c14"/>
<circle cx="121.12" cy="1060.1" r="3.2" fill="#ec0c14"/>
<circle cx="129.04" cy="1062.1" r="3.2" fill="#ec0c14"/>
<circle cx="136.96" cy="1064.1" r="3.2" fill="#ec0c14"/>
<circle cx="144.88" cy="1067.5" r="3.2" fill="#ec0c14"/>
<circle cx="152.8" cy="1066.1" r="3.2" fill="#ec0c14"/>
<circle cx="160.72" cy="1065.5" r="3.2" fill="#ec0c14"/>
<circle cx="168.64" cy="1071.6" r="3.2" fill="#ec0c14"/>
<circle cx="176.56" cy="1071" r="3.2" fill="#ec0c14"/>
<circle cx="184.48" cy="1076.2" r="3.2" fill="#ec0c14"/>
<circle cx="192.4" cy="1076.2" r="3.2" fill="#ec0c14"/>
<circle cx="200.32" cy="1080.1" r="3.2" fill="#ec0c14"/>
<circle cx="208.24" cy="1078.5" r="3.2" fill="#ec0c14"/>
<circle cx="216.16" cy="1085.4" r="3.2" fill="#ec0c14"/>
<circle cx="224.08" cy="1088.5" r="3.2" fill="#ec0c14"/>
<circle cx="232" cy="1090.1" r="3.2" fill="#ec0c14"/>
<circle cx="239.92" cy="1095.5" r="3.2" fill="#ec0c14"/>
<circle cx="247.84" cy="1100.2" r="3.2" fill="#ec0c14"/>
<circle cx="255.76" cy="1100.2" r="3.2" fill="#ec0c14"/>
<circle cx="263.68" cy="1104.2" r="3.2" fill="#ec0c14"/>
<circle cx="271.6" cy="1105" r="3.2" fill="#ec0c14"/>
<circle cx="279.52" cy="1106.2" r="3.2" fill="#ec0c14"/>
<circle cx="287.44" cy="1104.2" r="3.2" fill="#ec0c14"/>
<circle cx="295.36" cy="1106.6" r="3.2" fill="#ec0c14"/>
<circle cx="303.28" cy="1106.6" r="3.2" fill="#ec0c14"/>
<circle cx="311.2" cy="1110.9" r="3.2" fill="#ec0c14"/>
<circle cx="319.12" cy="1111.8" r="3.2" fill="#ec0c14"/>
<circle cx="327.04" cy="1113.4" r="3.2" fill="#ec0c14"/>
<circle cx="334.96" cy="1116" r="3.2" fill="#ec0c14"/>
<circle cx="342.88" cy="1119.5" r="3.2" fill="#ec0c14"/>
<circle cx="350.8" cy="1122.5" r="3.2" fill="#ec0c14"/>
<circle cx="358.72" cy="1122.5" r="3.2" fill="#ec0c14"/>
<circle cx="366.64" cy="1123.5" r="3.2" fill="#ec0c14"/>
<circle cx="374.56" cy="1121.5" r="3.2" fill="#ec0c14"/>
<circle cx="382.48" cy="1124.5" r="3.2" fill="#ec0c14"/>
<circle cx="390.4" cy="1118.5" r="3.2" fill="#ec0c14"/>
<circle cx="398.32" cy="1119.5" r="3.2" fill="#ec0c14"/>
<circle cx="406.24" cy="1126.5" r="3.2" fill="#ec0c14"/>
<circle cx="414.16" cy="1128.5" r="3.2" fill="#ec0c14"/>
<circle cx="422.08" cy="1120.5" r="3.2" fill="#ec0c14"/>
<circle cx="430" cy="1126.7" r="3.2" fill="#ec0c14"/>
<circle cx="437.92" cy="1138" r="3.2" fill="#ec0c14"/>
<circle cx="445.84" cy="1140.4" r="3.2" fill="#ec0c14"/>
<circle cx="453.76" cy="1141.4" r="3.2" fill="#ec0c14"/>
<circle cx="461.68" cy="1143.4" r="3.2" fill="#ec0c14"/>
<circle cx="469.6" cy="1146.5" r="3.2" fill="#ec0c14"/>
<circle cx="477.52" cy="1148.1" r="3.2" fill="#ec0c14"/>
<circle cx="485.44" cy="1149.5" r="3.2" fill="#ec0c14"/>
<circle cx="493.36" cy="1150.9" r="3.2" fill="#ec0c14"/>
<circle cx="501.28" cy="1150.1" r="3.2" fill="#ec0c14"/>
<circle cx="509.2" cy="1152.9" r="3.2" fill="#ec0c14"/>
<circle cx="517.12" cy="1154.5" r="3.2" fill="#ec0c14"/>
<circle cx="525.04" cy="1156.1" r="3.2" fill="#ec0c14"/>
<circle cx="532.96" cy="1154.9" r="3.2" fill="#ec0c14"/>
<circle cx="540.88" cy="1157.5" r="3.2" fill="#ec0c14"/>
<circle cx="548.8" cy="1161.6" r="3.2" fill="#ec0c14"/>
<circle cx="556.72" cy="1162.2" r="3.2" fill="#ec0c14"/>
<circle cx="564.64" cy="1167.9" r="3.2" fill="#ec0c14"/>
<circle cx="572.56" cy="1160.9" r="3.2" fill="#ec0c14"/>
<circle cx="580.48" cy="1160.9" r="3.2" fill="#ec0c14"/>
<circle cx="588.4" cy="1172.1" r="3.2" fill="#ec0c14"/>
<circle cx="596.32" cy="1175.8" r="3.2" fill="#ec0c14"/>
<circle cx="604.24" cy="1169.1" r="3.2" fill="#ec0c14"/>
<circle cx="612.16" cy="1171.6" r="3.2" fill="#ec0c14"/>
</g>
<line x1="88.7" y1="1173.6" x2="139.6" y2="1173.6" stroke="#000" stroke-width="1.3"/>
<path d="M111.7 1170.85h6v5.5h-6z" fill="#000"/>
<line x1="88.7" y1="1202.1" x2="139.6" y2="1202.1" stroke="#ec0c14" stroke-width="1.3"/>
<circle cx="114.7" cy="1202.1" r="3.3" fill="#ec0c14"/>
<text x="147" y="1181" font-size="22" textLength="59.6" lengthAdjust="spacingAndGlyphs">Li-rich</text>
<text x="147" y="1209.7" font-size="22" textLength="63.3" lengthAdjust="spacingAndGlyphs">Ni-rich</text>
</svg></body></html>
